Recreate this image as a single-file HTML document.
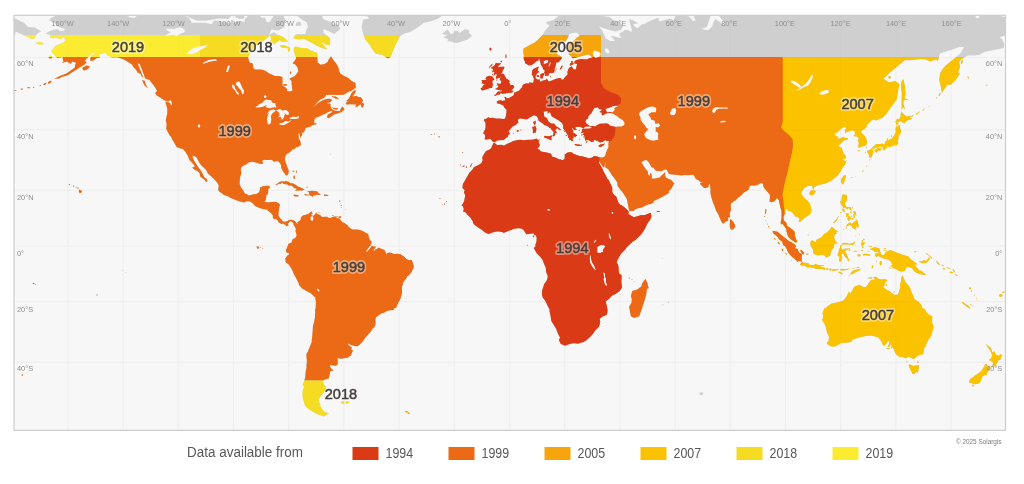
<!DOCTYPE html>
<html><head><meta charset="utf-8"><title>Data availability map</title>
<style>
html,body{margin:0;padding:0;background:#fff}
body{width:1024px;height:484px;overflow:hidden;font-family:"Liberation Sans",sans-serif}
svg{display:block}
text{font-family:"Liberation Sans",sans-serif}
.ax{font-size:7.4px;fill:#8e8e8e}
.lh{font-size:15.2px;fill:#fff;stroke:#fff;stroke-width:3.8px;stroke-linejoin:round;text-anchor:middle;opacity:.42}
.lb{font-size:15.2px;fill:#443f3c;stroke:#443f3c;stroke-width:.5px;text-anchor:middle}
.lg{font-size:13.5px;fill:#585858}
</style></head>
<body>
<svg width="1024" height="484" viewBox="0 0 1024 484">
<defs>
<clipPath id="frame"><rect x="14.0" y="15.3" width="991.5" height="415.1"/></clipPath>
<clipPath id="c_am1999"><path d="M0 57.1H430V380.5H0Z"/></clipPath>
<clipPath id="c_s2018"><path d="M250 380.5H440V440H250Z"/></clipPath>
<clipPath id="c_n2019"><path d="M0 35.0H200.0V57.1H0Z"/></clipPath>
<clipPath id="c_n2018"><path d="M200.0 35.0H430V57.1H200.0Z"/></clipPath>
<clipPath id="c_n2005"><path d="M515 35.0H601V57.1H515Z"/></clipPath>
<clipPath id="c_e2007"><path d="M740 57.1H1010V440H740Z"/></clipPath>
<clipPath id="c_a1999"><path d="M560.0 57.1L782.8 57.1L782.8 122.0L781.2 127.5L784.0 131.0L788.0 134.0L792.6 139.0L793.0 146.0L792.0 152.5L789.8 161.5L787.9 171.0L785.3 180.0L783.6 189.0L782.4 195.0L783.3 200.0L784.0 208.0L785.0 214.0L786.5 218.5L791.0 219.5L796.0 228.0L800.0 240.0L803.0 246.0L805.0 255.0L804.0 262.0L800.0 264.8L780.0 266.0L656.0 276.0L656.0 330.0L560.0 330.0Z"/></clipPath>
<clipPath id="c_e1994"><path d="M400.0 57.1L484.0 57.1L484.0 42.0L512.0 42.0L512.0 57.1L601.0 57.1L601.0 83.0L604.0 88.5L611.8 92.5L617.7 94.5L621.2 98.4L620.6 103.2L616.7 106.2L612.0 108.0L611.0 110.0L612.0 113.0L615.5 124.0L615.3 132.0L614.0 137.5L611.0 141.0L607.0 143.0L604.5 146.0L604.5 154.0L599.5 157.5L599.2 163.0L603.0 170.0L611.0 185.0L620.0 200.0L628.5 211.5L640.0 209.0L655.0 206.0L662.0 213.0L662.0 240.0L626.0 270.0L624.0 300.0L615.0 330.0L615.0 420.0L400.0 420.0Z"/></clipPath>
<path id="land" d="M45.5 33.4L50.2 35.0L50.2 37.7L53.0 38.3L55.8 38.1L59.6 38.5L60.2 39.2L64.6 36.5L64.6 39.0L65.7 41.1L62.4 42.8L58.2 44.7L55.5 45.8L52.4 49.8L51.1 51.3L53.3 53.8L54.9 55.4L56.9 57.7L61.0 57.5L62.4 56.3L62.7 58.5L63.5 61.2L62.0 63.0L66.8 61.4L70.9 64.0L72.0 61.6L76.2 62.8L75.1 64.8L74.8 67.6L71.8 69.7L66.5 73.4L60.4 75.8L54.4 78.8L59.3 78.4L61.6 77.1L66.5 75.8L70.2 73.8L72.3 72.3L77.8 68.8L80.0 67.2L84.7 64.4L86.5 62.2L84.7 60.4L88.3 57.1L90.8 54.4L93.0 52.5L95.5 52.5L94.4 53.4L91.9 55.0L90.4 58.3L90.3 60.8L92.9 60.8L96.9 57.9L99.8 57.7L99.1 54.2L101.8 53.4L105.6 52.9L107.2 55.2L109.3 56.3L112.1 57.5L116.5 57.3L119.0 57.7L121.7 58.7L123.9 59.5L128.8 62.4L132.3 64.8L133.0 66.4L135.8 69.5L137.9 72.8L140.5 73.8L141.6 76.5L145.2 78.4L149.6 80.0L150.1 81.1L152.6 84.1L154.6 86.7L156.8 90.0L156.8 91.6L155.1 92.9L156.8 95.4L159.8 97.2L162.0 98.8L163.9 100.1L166.2 101.0L168.9 101.5L170.0 100.1L171.4 101.1L172.0 104.3L170.8 105.7L170.3 102.9L168.9 102.4L165.3 101.5L166.7 106.4L167.3 108.8L167.3 113.3L165.7 120.5L166.7 124.0L166.2 128.5L167.8 132.1L170.0 135.9L171.4 136.9L171.7 138.8L173.1 140.7L174.7 143.5L176.6 147.1L180.5 148.4L182.4 148.8L185.8 151.9L186.3 153.4L187.7 155.6L189.3 159.8L192.1 162.8L194.3 165.5L194.6 167.0L192.0 167.4L194.9 170.0L196.8 170.8L199.6 172.9L200.1 176.4L203.1 178.8L205.1 180.5L206.0 182.0L207.6 181.1L206.5 178.5L205.1 178.2L204.0 176.4L202.3 172.9L200.4 170.0L198.2 167.0L196.2 164.0L194.3 161.0L192.9 158.0L192.7 155.6L196.2 157.1L198.2 160.4L199.8 163.4L201.8 166.1L203.4 167.3L206.5 170.5L207.8 173.5L211.4 176.4L214.2 179.3L215.8 181.1L217.8 183.4L218.9 186.0L218.3 188.0L218.9 188.6L217.8 189.1L219.7 192.0L221.6 193.1L223.8 195.1L227.4 196.1L230.7 198.0L233.8 199.2L237.6 200.8L241.8 201.9L244.0 202.5L246.7 201.2L250.1 201.6L252.8 203.3L255.0 205.9L258.3 207.5L261.1 208.4L263.9 209.2L267.2 209.5L267.4 210.2L270.8 212.9L273.0 215.4L272.7 217.6L274.6 219.5L275.7 218.7L277.7 220.4L278.8 222.7L280.4 223.1L280.7 224.0L283.2 223.4L284.6 224.8L285.9 225.1L286.2 226.2L287.6 226.0L288.7 225.3L287.6 223.7L289.3 222.3L290.1 221.3L291.5 221.5L293.1 222.9L293.7 225.1L294.5 226.2L296.2 224.2L295.9 222.0L294.2 220.4L291.5 219.7L289.0 220.1L286.5 221.5L284.6 221.7L282.6 221.2L281.5 219.5L280.4 218.4L278.8 216.2L278.5 215.6L278.5 212.9L279.0 210.1L279.3 207.3L280.0 204.5L277.7 202.5L274.9 201.8L272.1 201.9L269.4 202.2L266.6 202.2L264.1 201.9L265.8 200.2L266.1 197.4L266.3 194.9L267.4 195.1L268.3 191.7L268.0 189.7L270.1 187.0L269.1 185.7L266.1 185.7L262.2 186.6L260.0 187.4L259.7 190.7L258.3 193.1L256.1 194.1L253.6 194.3L250.6 194.9L248.7 195.6L246.7 194.0L245.1 193.7L244.3 192.6L243.2 190.3L241.0 187.4L239.6 184.0L239.8 180.2L240.1 177.3L241.4 173.1L240.7 170.0L241.2 167.6L243.2 165.8L246.5 164.3L247.9 163.1L250.3 161.9L252.8 161.8L255.6 162.4L257.5 163.1L259.7 163.7L262.8 164.0L262.8 162.8L262.2 160.7L264.1 159.8L266.6 160.1L268.8 160.0L271.3 159.8L273.0 160.7L274.1 161.9L276.6 161.0L278.5 161.6L280.4 163.7L281.2 165.8L281.0 167.6L281.8 169.1L282.9 171.1L283.7 172.6L285.1 173.8L285.7 175.4L287.3 175.3L288.4 173.5L288.7 170.5L287.6 167.9L287.0 165.8L285.9 163.1L284.8 159.8L285.4 156.5L285.9 155.0L287.3 153.7L289.0 152.7L291.2 151.0L292.6 149.3L294.4 149.3L296.2 147.1L298.2 147.0L299.7 145.6L301.1 144.9L300.6 142.6L299.9 139.8L298.9 139.4L298.6 136.3L298.4 132.4L299.7 134.7L300.0 138.5L300.8 136.6L302.2 135.0L302.2 133.7L301.4 132.1L302.8 133.1L304.2 131.8L305.3 129.2L305.3 127.9L310.8 126.6L312.2 125.3L313.5 124.9L314.6 124.6L316.3 124.4L316.4 123.6L315.7 123.1L314.9 124.0L314.4 122.6L313.5 122.1L314.6 121.1L314.1 120.0L315.7 117.8L319.1 116.6L321.3 115.6L324.6 113.9L327.3 112.6L330.1 111.2L331.5 110.5L332.0 112.2L327.9 114.6L326.8 117.3L328.7 118.3L332.0 116.0L334.0 114.6L338.4 113.3L341.1 112.2L344.5 109.8L342.8 106.4L341.1 108.1L339.8 110.9L337.0 110.9L334.2 110.4L332.9 109.8L331.5 108.8L330.7 106.4L330.4 103.6L328.2 103.6L326.5 102.9L330.1 102.2L332.3 100.1L330.1 98.7L326.0 99.0L321.8 100.8L317.7 103.2L314.9 105.7L313.0 107.1L315.7 104.6L317.1 102.5L320.4 99.4L324.0 97.9L326.2 95.1L332.9 94.7L338.4 95.1L343.9 94.7L347.5 92.2L351.9 90.4L355.8 87.8L355.5 83.0L351.6 81.1L348.0 77.7L343.3 75.6L340.3 73.4L339.2 71.3L338.4 67.6L336.2 63.6L332.9 59.5L331.2 56.1L328.7 59.5L327.6 62.0L324.6 64.0L320.7 64.8L317.7 62.4L317.4 57.9L317.4 52.9L311.1 50.8L306.6 47.9L301.1 47.9L295.6 46.6L293.9 47.9L293.9 51.3L294.8 54.2L296.2 57.5L295.6 59.5L292.6 63.2L295.6 64.8L297.5 67.6L298.4 71.5L294.9 76.1L289.4 78.8L291.5 81.1L291.7 84.8L292.0 87.8L292.6 90.4L290.1 91.5L287.0 91.1L287.3 89.6L285.9 87.8L282.4 85.2L282.6 81.1L282.4 76.9L279.0 76.1L274.9 76.1L269.4 73.4L265.2 70.7L261.1 69.5L254.8 69.5L253.4 68.0L252.8 63.6L249.5 62.4L248.1 57.5L249.8 52.9L252.8 49.6L255.3 45.7L259.2 43.4L264.1 40.5L269.4 36.1L269.7 33.4L271.6 29.3L274.9 30.2L279.0 30.2L284.6 27.0L285.1 20.0L283.2 14.2L274.9 13.7L272.7 17.6L269.4 22.3L266.6 21.9L265.0 17.6L262.5 18.0L258.3 14.7L252.8 7.7L245.9 7.7L248.7 15.1L245.1 19.0L244.5 21.9L239.8 20.9L233.5 22.8L228.0 22.8L219.7 20.9L214.2 20.4L211.4 24.2L205.9 22.8L197.6 22.8L191.8 22.8L189.3 18.5L186.6 16.6L178.3 14.7L170.0 13.2L165.3 11.7L163.1 14.2L156.2 9.7L153.5 12.7L142.4 15.4L136.9 16.1L134.1 18.0L130.0 17.6L125.9 14.7L120.3 14.4L113.2 12.2L106.5 11.7L99.6 10.7L94.1 10.2L90.0 8.2L83.1 7.7L77.3 6.0L73.4 8.7L67.9 9.7L62.7 11.2L59.6 14.2L50.8 18.0L49.1 20.7L54.1 22.3L55.5 23.7L57.7 26.5L60.7 27.5L65.1 28.9L63.8 30.7L59.6 31.1L58.0 29.1L54.1 29.8L51.1 30.5L47.2 32.5ZM294.5 226.2L295.9 228.9L295.5 230.9L296.2 233.6L296.7 235.3L295.3 238.0L292.8 238.9L292.0 241.1L291.5 242.7L289.7 243.3L288.4 244.1L287.3 247.1L286.8 248.6L286.2 248.9L285.9 252.0L287.9 252.9L289.0 252.9L288.7 255.1L287.3 255.6L285.0 258.9L285.7 260.0L285.5 262.0L288.7 264.4L291.2 268.3L292.6 271.1L293.7 273.9L295.3 276.6L296.6 279.3L299.1 283.9L298.6 284.5L302.1 288.5L308.8 292.2L310.8 293.2L312.6 295.0L315.3 297.4L315.9 302.3L315.7 307.7L314.9 310.6L315.2 312.2L314.9 317.3L314.5 320.1L314.0 322.2L312.9 326.3L312.7 330.7L312.2 336.7L311.7 340.3L311.7 342.0L309.5 347.4L307.7 351.9L306.2 354.5L306.6 357.3L306.9 361.7L306.4 365.4L306.6 367.4L306.4 368.2L305.8 370.7L305.5 373.2L305.3 377.1L304.4 380.5L302.8 384.2L303.1 385.4L304.4 386.7L302.8 389.8L302.5 394.4L302.8 398.0L303.9 401.6L304.7 404.6L305.8 406.8L308.6 409.0L312.2 411.3L315.5 413.2L319.1 414.7L323.8 416.6L326.0 415.1L329.0 413.6L326.0 412.4L322.6 410.2L320.2 405.9L318.2 405.7L320.7 404.9L319.1 402.0L318.8 399.4L320.4 396.6L322.6 393.7L325.4 389.8L326.0 388.2L325.7 386.3L323.2 384.1L323.2 381.6L324.6 379.4L328.7 378.4L330.0 373.0L330.1 371.2L334.0 370.4L332.3 369.4L330.1 367.1L330.1 364.8L332.9 365.4L336.2 365.7L337.8 364.1L337.6 358.3L341.1 358.8L347.4 357.7L350.7 355.7L353.0 350.5L351.1 349.4L351.8 347.7L349.7 345.8L348.3 345.0L348.3 343.2L349.8 344.6L354.4 346.0L357.8 346.2L362.1 342.3L365.7 337.2L368.7 334.0L371.2 331.0L372.3 328.9L374.8 326.5L375.6 323.8L375.4 319.7L375.9 317.6L377.3 316.2L381.7 313.2L384.2 312.7L386.1 311.2L390.3 310.2L393.6 310.1L394.1 308.6L396.3 307.4L398.3 302.6L399.7 300.6L401.3 295.3L401.7 291.6L401.9 287.0L403.2 281.9L406.0 278.6L407.2 276.1L409.0 275.0L411.0 272.6L413.3 268.2L413.5 265.5L412.3 262.0L411.5 260.0L408.5 260.0L406.6 259.5L403.2 256.2L400.2 254.2L397.7 253.7L394.1 254.0L390.0 252.6L387.2 252.9L386.4 254.2L384.5 250.1L381.2 248.7L378.8 247.6L375.6 249.8L375.9 246.7L371.5 246.0L370.4 244.4L371.5 243.3L371.6 241.3L370.1 240.2L369.0 237.8L368.2 234.0L365.2 232.4L364.2 231.8L360.7 230.2L357.3 229.6L352.2 229.6L349.0 227.3L347.2 225.1L344.5 222.9L342.2 222.3L341.1 220.4L339.5 218.7L337.0 217.9L335.9 217.3L338.7 216.4L334.9 216.6L332.3 217.1L330.9 218.0L328.7 217.9L327.2 216.8L324.7 216.8L321.8 217.1L321.1 215.8L318.5 214.3L317.0 214.0L316.3 212.3L315.6 213.7L313.8 215.6L312.7 215.8L310.9 215.1L312.6 213.4L311.7 211.6L310.2 212.3L308.3 214.1L304.7 214.9L302.9 215.4L301.0 217.3L300.7 219.8L298.9 221.3L297.3 222.3L297.7 223.7L297.0 224.0L296.2 222.6L295.9 222.0ZM354.9 -2.5L358.0 11.2L363.2 16.1L368.2 16.6L368.7 19.0L363.2 19.5L361.6 27.0L363.2 33.9L365.4 39.6L370.1 45.3L372.3 49.2L375.6 53.4L382.5 55.0L386.4 57.7L388.3 58.3L390.5 57.1L391.9 53.4L393.6 49.2L395.5 44.9L397.7 40.5L399.7 36.1L404.6 33.4L410.1 32.0L417.0 27.9L423.9 22.8L432.2 20.9L438.3 18.5L443.3 15.1L448.2 12.0L448.8 -2.5ZM580.7 7.2L573.0 10.2L567.5 12.7L561.9 14.2L557.8 16.6L553.7 20.0L545.4 22.3L549.5 25.6L545.4 30.2L543.2 33.9L540.7 37.0L537.1 40.5L534.3 42.7L530.8 44.4L526.3 47.0L523.6 48.3L523.3 50.8L523.3 52.9L523.9 55.9L523.6 57.9L524.0 60.0L525.0 61.8L525.0 63.2L526.1 63.8L529.0 65.6L531.6 65.0L533.8 63.8L536.3 61.6L538.5 60.4L539.0 57.9L539.7 60.8L540.4 62.0L540.7 64.4L542.3 66.8L543.2 69.2L545.0 70.9L543.9 72.3L544.6 73.3L545.4 75.0L544.8 75.8L545.8 75.9L547.6 75.7L549.1 75.2L548.7 73.4L550.5 72.9L552.6 72.9L553.7 72.7L554.6 70.9L554.9 68.6L555.5 66.6L555.9 64.4L556.1 63.2L556.4 62.6L558.1 62.4L559.0 62.0L560.0 60.4L561.7 58.5L561.4 57.1L560.4 56.1L557.0 54.6L556.7 52.1L556.8 50.2L557.4 47.4L559.0 46.4L561.1 43.6L565.5 41.4L568.0 37.4L568.8 34.8L570.8 33.4L576.0 32.5L577.3 32.7L579.7 36.1L577.1 37.4L573.3 41.2L569.1 44.4L568.3 47.4L568.8 51.1L568.7 52.9L568.6 54.2L570.8 55.9L572.8 58.2L578.4 56.9L583.9 55.6L588.7 54.6L592.9 57.7L589.8 57.9L586.8 59.5L581.3 59.1L577.8 59.7L575.9 60.2L574.4 61.8L574.4 63.2L577.1 64.0L576.7 66.0L576.0 69.5L573.5 69.5L571.9 66.6L569.0 68.0L567.5 71.5L567.7 74.6L564.7 77.5L564.4 78.6L563.0 79.8L561.0 79.6L561.4 78.8L560.0 78.1L557.9 78.3L556.0 78.8L552.4 80.3L548.8 81.5L546.6 78.5L545.7 80.0L542.9 80.5L541.1 81.5L539.6 81.3L540.4 79.4L537.5 79.6L535.6 78.1L535.7 75.4L537.8 72.9L539.6 71.7L537.9 71.1L537.9 69.5L538.6 67.8L538.8 66.6L537.0 67.2L533.2 69.1L532.1 70.7L531.9 73.4L531.8 75.2L532.8 75.6L533.4 77.7L534.3 79.2L533.2 80.0L533.9 80.7L533.5 81.6L533.1 82.8L531.9 82.8L528.8 82.2L529.4 83.5L528.7 83.5L526.6 83.2L524.4 84.1L522.6 85.0L522.1 86.9L520.8 88.5L519.2 90.4L518.3 90.9L517.5 91.3L516.0 92.0L514.6 92.4L513.9 92.7L513.9 93.3L513.8 95.1L512.5 96.1L509.8 97.6L508.7 98.3L506.5 97.9L506.1 96.9L505.1 97.1L504.1 96.8L505.1 98.7L505.1 99.9L505.4 100.6L504.0 100.6L502.0 101.0L501.2 99.9L498.7 100.4L496.4 101.5L497.6 102.2L496.4 102.8L497.4 103.6L500.3 103.9L500.9 104.6L502.6 105.3L503.4 105.4L504.0 107.1L504.5 108.1L506.3 109.3L506.5 111.2L506.2 114.4L505.2 118.3L504.0 119.0L501.2 118.8L499.0 118.4L496.3 118.5L493.9 118.1L493.4 117.8L490.2 118.1L488.2 117.3L486.7 118.3L486.3 118.7L484.1 119.3L483.9 120.4L485.4 122.6L485.6 126.1L485.4 127.7L485.1 129.4L483.6 131.9L483.3 133.8L484.2 134.0L484.9 134.7L485.0 136.4L484.7 139.4L487.6 139.4L490.3 138.8L492.1 140.9L494.0 142.6L494.7 142.2L497.4 140.4L499.8 140.3L502.7 140.0L503.4 140.3L506.7 137.5L507.6 137.4L508.2 135.1L510.1 133.9L508.7 131.6L509.5 129.9L511.8 127.6L513.0 126.3L515.5 125.3L518.6 122.2L517.9 121.0L518.1 119.5L519.7 118.6L521.9 118.7L524.3 119.0L525.9 119.6L527.9 119.1L529.6 117.6L534.1 115.3L536.6 116.3L537.9 118.1L538.5 120.2L540.1 122.0L542.1 123.0L543.3 124.1L544.3 125.1L547.0 125.9L548.8 127.1L549.1 128.0L550.3 127.7L550.9 129.2L551.7 129.7L553.1 131.5L553.7 131.9L553.2 134.2L552.7 135.9L553.8 136.5L555.2 135.0L555.3 133.6L556.8 132.8L556.1 131.1L555.0 130.6L557.1 128.3L559.2 129.7L560.1 130.5L560.6 129.4L559.0 127.7L556.1 126.2L554.2 123.6L551.7 123.6L550.9 123.3L548.7 121.7L546.8 117.9L544.2 116.4L544.0 113.4L543.6 111.8L547.5 111.0L547.7 113.7L549.4 112.1L550.6 113.4L551.5 116.2L554.9 118.3L559.5 121.1L562.2 123.0L563.2 125.5L563.3 128.4L564.7 130.3L565.4 131.5L566.8 133.2L567.7 135.2L568.6 135.7L567.8 136.5L568.3 137.4L569.3 138.6L569.4 140.0L569.9 140.3L570.5 139.4L571.5 141.4L571.8 140.2L573.5 141.2L573.1 140.4L572.7 139.0L572.4 137.7L573.5 138.3L574.1 137.5L572.8 136.5L574.7 136.5L575.8 137.4L575.7 136.3L577.3 135.8L576.0 134.3L573.8 133.1L573.3 132.7L572.8 131.9L573.5 131.6L572.7 130.0L571.9 129.0L572.8 127.8L573.9 130.1L575.7 130.0L576.8 129.4L575.5 128.5L574.9 127.7L576.8 126.8L580.9 127.1L581.4 127.5L583.5 128.1L581.8 129.7L582.4 129.4L581.5 131.5L583.2 132.1L583.7 133.4L582.1 135.3L583.7 134.8L584.7 136.7L584.7 138.3L585.2 139.3L585.0 140.4L587.5 139.9L589.8 140.6L591.3 142.0L592.7 141.6L593.4 142.0L594.2 139.8L597.8 140.9L600.1 142.5L603.2 141.6L605.1 140.1L607.1 140.9L609.3 140.8L608.7 142.3L608.3 144.1L608.5 146.0L608.4 147.4L607.5 149.1L606.7 151.1L606.1 152.4L605.5 154.7L604.6 156.5L602.8 157.5L598.6 157.2L599.3 161.2L601.1 164.6L602.3 166.3L604.0 167.8L604.8 165.5L606.0 162.4L605.9 163.2L605.0 167.0L608.0 168.9L610.1 172.2L612.4 175.8L614.5 178.5L617.2 182.2L617.6 186.0L620.6 189.9L622.9 192.8L626.9 199.1L628.0 205.0L628.9 209.2L629.4 211.0L633.7 210.7L635.6 209.1L642.5 207.3L645.1 205.8L648.9 204.3L650.9 203.9L653.7 202.6L653.6 201.1L658.8 198.8L662.1 197.1L669.0 193.1L668.8 191.3L671.2 189.1L674.5 183.0L673.8 182.9L671.2 179.9L666.1 177.7L665.0 175.5L665.3 171.9L664.8 172.3L663.9 173.5L662.1 175.0L659.6 177.4L655.0 178.5L651.9 178.8L651.7 175.0L650.9 172.5L649.7 174.7L649.6 176.6L648.1 173.9L647.8 171.6L646.5 170.0L643.4 165.7L641.9 162.9L641.2 163.0L642.5 161.3L643.5 161.2L645.3 159.7L647.9 160.9L649.8 164.1L651.6 167.4L653.2 167.5L655.8 170.7L661.0 171.3L664.8 169.4L666.8 169.8L668.9 173.9L676.8 175.0L681.5 175.5L684.7 175.0L687.9 175.3L693.3 174.7L694.4 176.3L695.8 179.0L698.6 180.2L699.1 181.1L700.9 182.2L703.3 181.8L700.1 183.2L699.9 183.9L701.6 185.6L703.7 187.7L705.4 188.3L708.5 187.1L708.6 185.2L709.6 183.7L710.2 185.6L710.2 187.1L710.5 189.1L710.5 193.3L711.0 196.0L711.8 198.8L713.2 203.2L714.1 205.0L716.0 210.4L717.5 213.2L718.6 214.9L720.0 218.6L721.8 222.6L723.5 223.7L725.2 221.7L728.4 220.4L728.0 217.6L729.9 217.6L729.9 216.3L729.8 213.1L731.1 209.8L730.7 206.0L731.1 203.1L732.8 202.4L733.5 201.2L736.6 200.0L736.5 199.0L739.4 196.8L741.7 195.1L743.8 192.4L746.4 190.9L748.7 189.5L749.6 186.1L751.1 185.6L752.7 185.6L755.1 185.4L757.9 184.8L760.7 183.1L762.9 183.6L763.3 186.2L764.2 187.9L765.9 189.9L767.7 191.9L769.9 194.7L770.0 198.0L769.5 201.6L771.7 202.2L773.9 201.6L775.3 200.2L776.9 198.0L778.9 200.2L779.6 203.8L780.3 207.1L781.6 211.6L781.6 215.6L781.5 218.4L780.8 221.5L780.8 224.5L782.5 223.8L784.1 225.9L785.6 227.8L786.5 229.2L786.3 231.1L787.2 233.1L787.2 234.4L788.3 236.4L789.2 237.8L790.5 239.1L791.7 240.0L793.5 240.9L795.2 242.5L796.5 242.3L797.3 241.7L796.1 239.3L794.7 235.5L795.0 232.9L794.2 231.3L791.7 229.1L790.6 228.3L789.0 227.1L787.2 226.2L786.2 222.6L783.8 220.6L783.4 217.0L784.9 213.4L785.4 211.3L785.6 209.6L787.2 208.7L787.9 210.3L788.0 211.0L789.1 211.0L791.3 211.5L792.5 212.7L793.6 214.0L795.2 216.7L797.1 216.8L797.9 217.4L799.5 218.4L798.5 222.3L800.4 221.7L801.4 220.5L803.7 219.0L804.1 217.9L805.0 217.4L807.9 215.8L810.3 214.1L810.9 213.1L810.9 212.2L811.6 210.3L811.0 207.9L810.1 204.0L808.2 201.4L806.8 200.1L803.8 197.5L801.4 194.1L801.8 191.0L803.7 189.4L804.0 187.9L805.1 187.6L807.6 186.0L810.6 186.0L812.4 186.1L812.8 189.4L813.7 189.6L814.3 186.9L815.9 186.1L818.5 185.3L822.9 184.0L824.7 183.7L827.9 182.4L831.6 180.6L835.5 177.4L837.1 176.1L839.6 172.9L841.3 170.0L843.0 167.1L845.1 164.9L845.9 161.6L843.5 160.1L841.5 160.1L845.9 158.3L845.9 155.9L843.5 153.4L843.2 151.9L841.5 147.9L838.8 146.5L839.5 144.5L841.7 142.4L844.8 140.1L847.3 139.8L848.2 138.2L846.5 137.9L844.6 137.7L842.8 136.8L840.4 138.5L837.9 138.8L838.5 136.9L835.2 135.6L834.5 133.1L837.7 132.6L839.6 130.1L843.0 127.6L844.0 126.9L846.5 127.6L844.8 130.5L845.1 133.4L847.0 132.1L852.3 130.3L854.5 131.1L855.1 133.9L853.5 135.9L856.4 136.4L858.9 138.0L857.7 140.2L858.9 142.7L858.2 146.3L858.6 147.9L862.1 146.6L865.8 145.4L866.6 144.2L867.1 142.4L866.6 139.4L865.4 137.1L864.4 135.6L861.3 132.6L861.8 130.3L863.9 129.2L866.1 127.7L867.7 124.0L869.4 122.5L870.2 122.3L870.5 121.1L873.5 119.6L876.3 120.6L879.3 119.0L882.9 117.5L886.2 113.9L890.4 108.1L896.7 99.4L898.1 90.5L899.5 84.3L896.7 82.2L895.3 81.1L889.0 82.6L883.5 78.8L890.8 71.7L904.7 60.2L911.9 60.0L920.5 59.1L925.7 59.3L930.4 61.6L935.4 59.5L937.9 60.8L940.1 53.4L952.2 49.4L959.4 47.0L964.1 47.0L960.2 53.4L951.0 61.3L945.6 65.6L942.3 69.5L940.1 73.4L939.2 80.0L940.6 85.6L941.9 92.7L947.4 84.8L951.2 84.5L956.9 78.3L960.2 72.7L958.0 72.7L960.2 66.4L959.1 62.0L959.7 60.6L964.9 56.9L967.9 55.4L974.6 55.6L979.5 54.8L984.2 52.1L1003.8 48.1L1004.4 44.9L1002.2 39.2L999.4 37.2L1009.1 34.3L1009.1 31.6L1025.1 38.8L1027.6 38.8L1031.1 33.4L1034.9 31.3L1028.4 27.5L1021.5 27.0L1017.9 23.0L1008.0 18.0L1000.8 16.1L994.7 13.2L987.0 13.2L979.5 14.2L978.7 18.5L975.9 17.6L975.1 14.7L970.4 15.1L964.9 14.9L955.0 15.1L951.1 14.2L948.3 7.7L923.5 -2.5L757.9 -13.3L741.3 -2.5L731.7 2.7L726.2 1.6L723.4 7.7L719.3 16.6L726.2 24.2L723.4 24.7L715.7 19.0L713.2 22.3L712.4 26.1L708.2 30.2L701.3 28.9L706.8 27.0L708.8 21.4L711.0 15.1L709.6 7.7L699.9 0.1L694.4 7.7L693.9 16.6L695.8 20.4L693.0 20.9L688.9 16.4L679.7 13.9L676.5 14.2L673.7 20.0L669.6 18.5L666.8 19.5L662.7 20.4L659.4 21.4L658.5 17.8L655.8 18.5L647.5 21.9L644.2 24.0L642.0 24.2L637.8 27.9L635.1 27.0L633.1 24.2L638.4 23.3L632.3 20.0L629.0 19.2L630.4 24.7L631.8 29.3L631.5 32.0L628.2 30.2L625.4 29.8L622.1 32.0L619.3 33.9L621.3 38.1L619.3 37.9L614.4 36.5L610.5 36.1L613.8 39.2L614.7 41.0L610.2 41.0L605.5 38.3L605.0 36.3L603.3 33.4L602.0 30.2L598.9 26.3L604.3 28.5L610.2 30.2L615.8 31.4L621.3 29.5L623.1 26.5L619.2 21.6L614.4 20.4L608.9 17.1L606.4 16.6L602.0 16.1L597.8 12.9L595.6 14.7L592.3 14.2L591.6 12.3L595.3 10.9L588.2 7.7ZM-412.9 7.2L-420.6 10.2L-426.1 12.7L-431.7 14.2L-435.8 16.6L-439.9 20.0L-448.2 22.3L-444.1 25.6L-448.2 30.2L-450.4 33.9L-452.9 37.0L-456.5 40.5L-459.3 42.7L-462.8 44.4L-467.3 47.0L-470.0 48.3L-470.3 50.8L-470.3 52.9L-469.7 55.9L-470.0 57.9L-469.6 60.0L-468.6 61.8L-468.6 63.2L-467.5 63.8L-464.6 65.6L-462.0 65.0L-459.8 63.8L-457.3 61.6L-455.1 60.4L-454.6 57.9L-453.9 60.8L-453.2 62.0L-452.9 64.4L-451.3 66.8L-450.4 69.2L-448.6 70.9L-449.7 72.3L-449.0 73.3L-448.2 75.0L-448.8 75.8L-447.8 75.9L-446.0 75.7L-444.5 75.2L-444.9 73.4L-443.1 72.9L-441.0 72.9L-439.9 72.7L-439.0 70.9L-438.7 68.6L-438.1 66.6L-437.7 64.4L-437.5 63.2L-437.2 62.6L-435.5 62.4L-434.6 62.0L-433.6 60.4L-431.9 58.5L-432.2 57.1L-433.2 56.1L-436.6 54.6L-436.9 52.1L-436.8 50.2L-436.2 47.4L-434.6 46.4L-432.5 43.6L-428.1 41.4L-425.6 37.4L-424.8 34.8L-422.8 33.4L-417.6 32.5L-416.3 32.7L-413.9 36.1L-416.5 37.4L-420.3 41.2L-424.5 44.4L-425.3 47.4L-424.8 51.1L-424.9 52.9L-425.0 54.2L-422.8 55.9L-420.8 58.2L-415.2 56.9L-409.7 55.6L-404.9 54.6L-400.7 57.7L-403.8 57.9L-406.8 59.5L-412.3 59.1L-415.8 59.7L-417.7 60.2L-419.2 61.8L-419.2 63.2L-416.5 64.0L-416.9 66.0L-417.6 69.5L-420.1 69.5L-421.7 66.6L-424.6 68.0L-426.1 71.5L-425.9 74.6L-428.9 77.5L-429.2 78.6L-430.6 79.8L-432.6 79.6L-432.2 78.8L-433.6 78.1L-435.7 78.3L-437.6 78.8L-441.2 80.3L-444.8 81.5L-447.0 78.5L-447.9 80.0L-450.7 80.5L-452.5 81.5L-454.0 81.3L-453.2 79.4L-456.1 79.6L-458.0 78.1L-457.9 75.4L-455.8 72.9L-454.0 71.7L-455.7 71.1L-455.7 69.5L-455.0 67.8L-454.8 66.6L-456.6 67.2L-460.4 69.1L-461.5 70.7L-461.7 73.4L-461.8 75.2L-460.8 75.6L-460.2 77.7L-459.3 79.2L-460.4 80.0L-459.7 80.7L-460.1 81.6L-460.5 82.8L-461.7 82.8L-464.8 82.2L-464.2 83.5L-464.9 83.5L-467.0 83.2L-469.2 84.1L-471.0 85.0L-471.5 86.9L-472.8 88.5L-474.4 90.4L-475.3 90.9L-476.1 91.3L-477.6 92.0L-479.0 92.4L-479.7 92.7L-479.7 93.3L-479.8 95.1L-481.1 96.1L-483.8 97.6L-484.9 98.3L-487.1 97.9L-487.5 96.9L-488.5 97.1L-489.5 96.8L-488.5 98.7L-488.5 99.9L-488.2 100.6L-489.6 100.6L-491.6 101.0L-492.4 99.9L-494.9 100.4L-497.2 101.5L-496.0 102.2L-497.2 102.8L-496.2 103.6L-493.3 103.9L-492.7 104.6L-491.0 105.3L-490.2 105.4L-489.6 107.1L-489.1 108.1L-487.3 109.3L-487.1 111.2L-487.4 114.4L-488.4 118.3L-489.6 119.0L-492.4 118.8L-494.6 118.4L-497.3 118.5L-499.7 118.1L-500.2 117.8L-503.4 118.1L-505.4 117.3L-506.9 118.3L-507.3 118.7L-509.5 119.3L-509.7 120.4L-508.2 122.6L-508.0 126.1L-508.2 127.7L-508.5 129.4L-510.0 131.9L-510.3 133.8L-509.4 134.0L-508.7 134.7L-508.6 136.4L-508.9 139.4L-506.0 139.4L-503.3 138.8L-501.5 140.9L-499.6 142.6L-498.9 142.2L-496.2 140.4L-493.8 140.3L-490.9 140.0L-490.2 140.3L-486.9 137.5L-486.0 137.4L-485.4 135.1L-483.5 133.9L-484.9 131.6L-484.1 129.9L-481.8 127.6L-480.6 126.3L-478.1 125.3L-475.0 122.2L-475.7 121.0L-475.5 119.5L-473.9 118.6L-471.7 118.7L-469.3 119.0L-467.7 119.6L-465.7 119.1L-464.0 117.6L-459.5 115.3L-457.0 116.3L-455.7 118.1L-455.1 120.2L-453.5 122.0L-451.5 123.0L-450.3 124.1L-449.3 125.1L-446.6 125.9L-444.8 127.1L-444.5 128.0L-443.3 127.7L-442.7 129.2L-441.9 129.7L-440.5 131.5L-439.9 131.9L-440.4 134.2L-440.9 135.9L-439.8 136.5L-438.4 135.0L-438.3 133.6L-436.8 132.8L-437.5 131.1L-438.6 130.6L-436.5 128.3L-434.4 129.7L-433.5 130.5L-433.0 129.4L-434.6 127.7L-437.5 126.2L-439.4 123.6L-441.9 123.6L-442.7 123.3L-444.9 121.7L-446.8 117.9L-449.4 116.4L-449.6 113.4L-450.0 111.8L-446.1 111.0L-445.9 113.7L-444.2 112.1L-443.0 113.4L-442.1 116.2L-438.7 118.3L-434.1 121.1L-431.4 123.0L-430.4 125.5L-430.3 128.4L-428.9 130.3L-428.2 131.5L-426.8 133.2L-425.9 135.2L-425.0 135.7L-425.8 136.5L-425.3 137.4L-424.3 138.6L-424.2 140.0L-423.7 140.3L-423.1 139.4L-422.1 141.4L-421.8 140.2L-420.1 141.2L-420.5 140.4L-420.9 139.0L-421.2 137.7L-420.1 138.3L-419.5 137.5L-420.8 136.5L-418.9 136.5L-417.8 137.4L-417.9 136.3L-416.3 135.8L-417.6 134.3L-419.8 133.1L-420.3 132.7L-420.8 131.9L-420.1 131.6L-420.9 130.0L-421.7 129.0L-420.8 127.8L-419.7 130.1L-417.9 130.0L-416.8 129.4L-418.1 128.5L-418.7 127.7L-416.8 126.8L-412.7 127.1L-412.2 127.5L-410.1 128.1L-411.8 129.7L-411.2 129.4L-412.1 131.5L-410.4 132.1L-409.9 133.4L-411.5 135.3L-409.9 134.8L-408.9 136.7L-408.9 138.3L-408.4 139.3L-408.6 140.4L-406.1 139.9L-403.8 140.6L-402.3 142.0L-400.9 141.6L-400.2 142.0L-399.4 139.8L-395.8 140.9L-393.5 142.5L-390.4 141.6L-388.5 140.1L-386.5 140.9L-384.3 140.8L-384.9 142.3L-385.3 144.1L-385.1 146.0L-385.2 147.4L-386.1 149.1L-386.9 151.1L-387.5 152.4L-388.1 154.7L-389.0 156.5L-390.8 157.5L-395.0 157.2L-394.3 161.2L-392.5 164.6L-391.3 166.3L-389.6 167.8L-388.8 165.5L-387.6 162.4L-387.7 163.2L-388.6 167.0L-385.6 168.9L-383.5 172.2L-381.2 175.8L-379.1 178.5L-376.4 182.2L-376.0 186.0L-373.0 189.9L-370.7 192.8L-366.7 199.1L-365.6 205.0L-364.7 209.2L-364.2 211.0L-359.9 210.7L-358.0 209.1L-351.1 207.3L-348.5 205.8L-344.7 204.3L-342.7 203.9L-339.9 202.6L-340.0 201.1L-334.8 198.8L-331.5 197.1L-324.6 193.1L-324.8 191.3L-322.4 189.1L-319.1 183.0L-319.8 182.9L-322.4 179.9L-327.5 177.7L-328.6 175.5L-328.3 171.9L-328.8 172.3L-329.7 173.5L-331.5 175.0L-334.0 177.4L-338.6 178.5L-341.7 178.8L-341.9 175.0L-342.7 172.5L-343.9 174.7L-344.0 176.6L-345.5 173.9L-345.8 171.6L-347.1 170.0L-350.2 165.7L-351.7 162.9L-352.4 163.0L-351.1 161.3L-350.1 161.2L-348.3 159.7L-345.7 160.9L-343.8 164.1L-342.0 167.4L-340.4 167.5L-337.8 170.7L-332.6 171.3L-328.8 169.4L-326.8 169.8L-324.7 173.9L-316.8 175.0L-312.1 175.5L-308.9 175.0L-305.7 175.3L-300.3 174.7L-299.2 176.3L-297.8 179.0L-295.0 180.2L-294.5 181.1L-292.7 182.2L-290.3 181.8L-293.5 183.2L-293.7 183.9L-292.0 185.6L-289.9 187.7L-288.2 188.3L-285.1 187.1L-285.0 185.2L-284.0 183.7L-283.4 185.6L-283.4 187.1L-283.1 189.1L-283.1 193.3L-282.6 196.0L-281.8 198.8L-280.4 203.2L-279.5 205.0L-277.6 210.4L-276.1 213.2L-275.0 214.9L-273.6 218.6L-271.8 222.6L-270.1 223.7L-268.4 221.7L-265.2 220.4L-265.6 217.6L-263.7 217.6L-263.7 216.3L-263.8 213.1L-262.5 209.8L-262.9 206.0L-262.5 203.1L-260.8 202.4L-260.1 201.2L-257.0 200.0L-257.1 199.0L-254.2 196.8L-251.9 195.1L-249.8 192.4L-247.2 190.9L-244.9 189.5L-244.0 186.1L-242.5 185.6L-240.9 185.6L-238.5 185.4L-235.7 184.8L-232.9 183.1L-230.7 183.6L-230.3 186.2L-229.4 187.9L-227.7 189.9L-225.9 191.9L-223.7 194.7L-223.6 198.0L-224.1 201.6L-221.9 202.2L-219.7 201.6L-218.3 200.2L-216.7 198.0L-214.7 200.2L-214.0 203.8L-213.3 207.1L-212.0 211.6L-212.0 215.6L-212.1 218.4L-212.8 221.5L-212.8 224.5L-211.1 223.8L-209.5 225.9L-208.0 227.8L-207.1 229.2L-207.3 231.1L-206.4 233.1L-206.4 234.4L-205.3 236.4L-204.4 237.8L-203.1 239.1L-201.9 240.0L-200.1 240.9L-198.4 242.5L-197.1 242.3L-196.3 241.7L-197.5 239.3L-198.9 235.5L-198.6 232.9L-199.4 231.3L-201.9 229.1L-203.0 228.3L-204.6 227.1L-206.4 226.2L-207.4 222.6L-209.8 220.6L-210.2 217.0L-208.7 213.4L-208.2 211.3L-208.0 209.6L-206.4 208.7L-205.7 210.3L-205.6 211.0L-204.5 211.0L-202.3 211.5L-201.1 212.7L-200.0 214.0L-198.4 216.7L-196.5 216.8L-195.7 217.4L-194.1 218.4L-195.1 222.3L-193.2 221.7L-192.2 220.5L-189.9 219.0L-189.5 217.9L-188.6 217.4L-185.7 215.8L-183.3 214.1L-182.7 213.1L-182.7 212.2L-182.0 210.3L-182.6 207.9L-183.5 204.0L-185.4 201.4L-186.8 200.1L-189.8 197.5L-192.2 194.1L-191.8 191.0L-189.9 189.4L-189.6 187.9L-188.5 187.6L-186.0 186.0L-183.0 186.0L-181.2 186.1L-180.8 189.4L-179.9 189.6L-179.3 186.9L-177.7 186.1L-175.1 185.3L-170.7 184.0L-168.9 183.7L-165.7 182.4L-162.0 180.6L-158.1 177.4L-156.5 176.1L-154.0 172.9L-152.3 170.0L-150.6 167.1L-148.5 164.9L-147.7 161.6L-150.1 160.1L-152.1 160.1L-147.7 158.3L-147.7 155.9L-150.1 153.4L-150.4 151.9L-152.1 147.9L-154.8 146.5L-154.1 144.5L-151.9 142.4L-148.8 140.1L-146.3 139.8L-145.4 138.2L-147.1 137.9L-149.0 137.7L-150.8 136.8L-153.2 138.5L-155.7 138.8L-155.1 136.9L-158.4 135.6L-159.1 133.1L-155.9 132.6L-154.0 130.1L-150.6 127.6L-149.6 126.9L-147.1 127.6L-148.8 130.5L-148.5 133.4L-146.6 132.1L-141.3 130.3L-139.1 131.1L-138.5 133.9L-140.1 135.9L-137.2 136.4L-134.7 138.0L-135.9 140.2L-134.7 142.7L-135.4 146.3L-135.0 147.9L-131.5 146.6L-127.8 145.4L-127.0 144.2L-126.5 142.4L-127.0 139.4L-128.2 137.1L-129.2 135.6L-132.3 132.6L-131.8 130.3L-129.7 129.2L-127.5 127.7L-125.9 124.0L-124.2 122.5L-123.4 122.3L-123.1 121.1L-120.1 119.6L-117.3 120.6L-114.3 119.0L-110.7 117.5L-107.4 113.9L-103.2 108.1L-96.9 99.4L-95.5 90.5L-94.1 84.3L-96.9 82.2L-98.3 81.1L-104.6 82.6L-110.1 78.8L-102.8 71.7L-88.9 60.2L-81.7 60.0L-73.1 59.1L-67.9 59.3L-63.2 61.6L-58.2 59.5L-55.7 60.8L-53.5 53.4L-41.4 49.4L-34.2 47.0L-29.5 47.0L-33.4 53.4L-42.6 61.3L-48.0 65.6L-51.3 69.5L-53.5 73.4L-54.4 80.0L-53.0 85.6L-51.7 92.7L-46.2 84.8L-42.4 84.5L-36.7 78.3L-33.4 72.7L-35.6 72.7L-33.4 66.4L-34.5 62.0L-33.9 60.6L-28.7 56.9L-25.7 55.4L-19.0 55.6L-14.1 54.8L-9.4 52.1L10.2 48.1L10.8 44.9L8.6 39.2L5.8 37.2L15.5 34.3L15.5 31.6L31.5 38.8L34.0 38.8L37.5 33.4L41.3 31.3L34.8 27.5L27.9 27.0L24.3 23.0L14.4 18.0L7.2 16.1L1.1 13.2L-6.6 13.2L-14.1 14.2L-14.9 18.5L-17.7 17.6L-18.5 14.7L-23.2 15.1L-28.7 14.9L-38.6 15.1L-42.5 14.2L-45.3 7.7L-70.1 -2.5L-235.7 -13.3L-252.3 -2.5L-261.9 2.7L-267.4 1.6L-270.2 7.7L-274.3 16.6L-267.4 24.2L-270.2 24.7L-277.9 19.0L-280.4 22.3L-281.2 26.1L-285.4 30.2L-292.3 28.9L-286.8 27.0L-284.8 21.4L-282.6 15.1L-284.0 7.7L-293.7 0.1L-299.2 7.7L-299.7 16.6L-297.8 20.4L-300.6 20.9L-304.7 16.4L-313.9 13.9L-317.1 14.2L-319.9 20.0L-324.0 18.5L-326.8 19.5L-330.9 20.4L-334.2 21.4L-335.1 17.8L-337.8 18.5L-346.1 21.9L-349.4 24.0L-351.6 24.2L-355.8 27.9L-358.5 27.0L-360.5 24.2L-355.2 23.3L-361.3 20.0L-364.6 19.2L-363.2 24.7L-361.8 29.3L-362.1 32.0L-365.4 30.2L-368.2 29.8L-371.5 32.0L-374.3 33.9L-372.3 38.1L-374.3 37.9L-379.2 36.5L-383.1 36.1L-379.8 39.2L-378.9 41.0L-383.4 41.0L-388.1 38.3L-388.6 36.3L-390.3 33.4L-391.6 30.2L-394.7 26.3L-389.3 28.5L-383.4 30.2L-377.8 31.4L-372.3 29.5L-370.5 26.5L-374.4 21.6L-379.2 20.4L-384.7 17.1L-387.2 16.6L-391.6 16.1L-395.8 12.9L-398.0 14.7L-401.3 14.2L-402.0 12.3L-398.3 10.9L-405.4 7.7ZM493.2 143.2L494.9 142.9L497.1 145.1L498.7 144.9L501.4 144.8L504.0 145.4L507.7 143.5L509.8 142.7L513.1 141.0L517.9 140.1L520.3 139.8L523.6 140.2L525.4 140.1L528.5 139.8L530.9 139.8L533.2 139.6L536.7 138.4L537.9 139.9L540.0 139.3L538.8 141.3L538.9 143.2L540.0 144.2L539.2 146.5L537.4 149.1L539.6 149.4L540.1 150.4L541.2 151.4L545.9 152.2L548.8 153.0L551.2 153.7L552.0 156.5L555.3 157.4L559.2 159.2L560.6 159.5L562.5 160.3L563.6 159.8L564.8 158.6L564.8 154.6L567.3 152.8L569.5 152.2L570.6 152.2L572.0 152.6L573.3 153.7L575.7 154.7L578.8 155.7L578.9 156.3L581.0 156.2L584.7 156.9L589.4 158.4L592.0 157.4L593.4 156.5L595.1 156.2L597.3 156.4L598.6 157.2L599.3 161.2L598.8 162.2L599.6 163.7L600.9 166.0L602.9 169.2L603.2 170.7L604.1 172.6L605.8 175.6L607.4 179.0L608.3 179.0L610.7 183.9L612.2 187.4L612.2 191.4L612.6 192.9L614.4 195.4L616.0 196.0L618.4 202.8L619.9 204.5L622.7 205.9L627.5 210.1L628.5 210.9L629.0 213.0L627.1 214.1L628.6 214.0L629.5 214.7L633.7 217.2L637.8 216.2L640.6 215.2L642.5 215.2L645.2 214.9L648.9 213.6L649.6 212.9L651.0 213.3L651.4 217.2L650.0 219.8L647.1 224.0L645.3 228.1L643.4 231.3L640.6 235.0L634.7 240.4L633.1 241.3L626.9 247.0L624.3 250.5L622.4 252.2L620.2 254.8L619.0 257.1L617.4 259.9L616.6 262.5L618.0 264.7L618.5 267.8L618.5 270.5L619.1 273.6L620.5 274.4L621.6 275.5L621.3 281.8L621.6 284.7L621.8 286.1L622.0 287.6L619.6 291.1L615.8 293.7L611.6 295.7L609.7 298.3L605.7 301.2L606.1 303.4L607.1 307.4L607.5 310.3L607.2 312.8L606.7 314.7L602.4 316.5L599.5 318.9L600.3 321.6L599.1 326.2L598.1 327.4L595.1 330.6L593.5 333.3L591.1 335.9L586.5 340.2L583.7 342.0L580.2 343.1L578.1 343.8L574.1 343.3L570.6 343.7L564.7 345.8L562.5 344.5L561.5 344.4L560.6 343.5L560.5 344.3L560.3 342.9L558.9 340.1L560.0 337.4L558.1 334.0L556.1 328.7L554.9 326.8L551.3 321.0L550.6 316.2L549.5 311.5L549.5 310.2L549.6 309.4L548.0 306.8L546.1 302.6L544.6 299.9L542.6 297.3L541.9 293.9L542.2 289.8L543.0 288.1L544.0 284.3L546.5 280.8L546.9 280.1L547.7 276.9L547.5 275.6L545.9 271.6L546.0 270.3L545.7 267.6L545.0 265.9L543.6 262.9L543.2 261.3L542.2 259.2L540.1 256.7L538.9 255.4L536.5 252.9L533.6 247.8L535.2 247.1L535.6 244.9L535.2 244.4L536.0 243.3L536.5 240.9L536.5 239.5L536.8 237.9L535.7 235.3L534.9 235.0L534.1 234.7L533.5 233.3L532.7 233.5L530.2 233.8L529.2 233.9L526.8 234.2L526.3 234.3L524.3 231.3L523.3 229.8L521.9 228.7L518.9 228.3L516.2 228.5L512.9 229.1L512.3 229.8L511.4 230.1L508.9 230.7L506.1 232.0L504.7 232.5L503.7 233.0L503.3 232.6L501.5 232.1L498.5 231.6L495.7 231.8L492.7 232.4L491.2 233.0L489.2 233.8L488.2 234.0L484.5 232.2L481.8 229.8L479.7 228.6L478.1 227.4L475.0 225.2L473.8 224.2L472.9 222.6L472.8 221.2L471.7 219.8L470.7 217.9L469.2 216.6L468.1 215.6L466.7 214.3L466.4 213.3L464.8 212.1L463.4 211.9L463.3 211.3L463.7 208.8L463.3 207.5L463.0 206.8L462.7 206.1L461.1 205.2L462.2 204.7L464.0 201.6L464.5 198.8L465.3 195.7L463.8 192.1L464.8 190.3L462.4 188.1L462.6 186.3L462.9 184.0L465.5 179.6L469.5 172.5L472.5 169.5L473.8 167.2L478.9 164.8L481.4 162.9L482.9 159.7L482.2 159.1L482.5 156.5L484.0 154.0L486.0 151.1L488.5 150.0L490.6 148.7L491.1 147.9L492.5 145.1L492.9 144.2L493.2 143.2ZM902.8 275.5L903.6 277.7L905.1 281.4L908.3 285.3L910.4 288.8L911.9 292.9L912.7 294.6L914.7 299.6L918.7 301.7L921.3 305.0L922.4 308.3L924.9 308.9L926.0 311.8L927.1 312.8L930.1 315.6L932.6 316.2L932.3 318.5L932.1 320.3L932.3 323.2L933.2 325.3L933.5 326.9L932.2 331.9L931.5 335.4L928.5 339.8L927.1 342.7L926.0 344.6L925.7 346.6L924.1 348.5L923.4 352.9L923.4 354.1L918.0 355.4L913.6 359.3L910.3 357.2L908.7 356.7L905.6 358.5L902.8 357.0L900.3 356.9L897.6 355.9L895.2 353.0L894.0 349.4L892.9 348.0L890.7 348.2L891.8 346.0L890.7 343.8L890.1 346.6L887.6 347.1L888.7 344.7L889.8 338.6L889.3 340.3L887.3 342.6L884.6 345.5L884.9 346.3L882.7 344.9L881.8 342.1L879.9 339.5L878.5 337.5L871.6 335.5L865.3 336.1L857.3 338.0L851.7 340.1L851.5 342.0L845.9 342.8L841.0 343.0L839.0 344.4L834.9 346.4L831.3 346.4L827.3 344.3L826.9 341.7L827.9 342.1L828.6 341.1L828.8 338.6L829.0 336.9L827.7 334.0L826.9 331.9L825.8 327.3L824.6 324.1L821.8 319.5L822.8 318.8L823.2 315.9L822.5 313.2L823.5 310.8L824.6 306.9L824.7 308.9L827.2 306.4L831.6 303.6L836.8 302.6L840.7 301.6L843.5 300.6L845.7 297.4L846.9 295.9L848.8 291.5L850.6 294.0L851.7 291.2L853.1 288.9L854.5 286.4L859.9 284.7L862.8 286.8L865.5 287.3L867.1 285.6L868.9 282.8L870.6 280.4L871.9 279.7L875.2 279.7L873.3 277.2L875.5 276.6L878.0 278.6L879.9 279.3L882.1 279.4L883.8 279.1L887.1 279.7L887.5 280.1L884.6 283.6L884.6 285.6L883.2 286.8L883.8 287.5L886.8 289.9L889.8 291.2L890.4 291.9L894.8 294.9L898.1 294.6L899.8 288.9L900.3 287.3L900.0 284.5L900.6 282.9L901.0 281.0L900.9 279.1L901.7 276.4ZM871.8 248.3L874.6 247.0L879.5 248.4L880.2 251.2L881.5 255.1L883.5 255.2L886.0 252.0L889.8 250.1L892.5 251.1L897.8 253.0L899.5 253.4L902.4 254.7L906.0 255.8L908.3 256.6L911.9 260.3L913.8 261.4L917.6 264.2L915.2 264.6L915.8 266.7L916.9 267.3L918.8 269.7L919.4 270.5L921.6 270.8L923.2 272.7L926.0 274.3L925.3 275.2L922.1 274.4L919.4 274.1L915.6 272.2L913.8 270.5L911.8 268.0L909.4 267.2L907.6 266.7L905.8 268.3L905.3 269.7L904.7 271.0L902.0 271.4L898.7 271.1L896.9 269.4L893.7 268.3L889.6 269.1L890.4 266.1L892.3 265.3L890.7 261.3L887.6 259.5L886.5 259.2L882.7 258.2L879.9 256.7L878.6 256.0L876.0 257.0L874.6 254.1L878.0 252.9L879.1 252.3L874.6 252.0L873.5 250.5L870.9 249.8ZM812.1 240.3L814.1 241.3L815.9 242.2L816.4 239.7L821.5 237.2L824.1 233.9L826.8 232.4L829.8 229.5L831.7 226.7L833.0 227.6L835.5 229.9L838.7 231.7L836.0 232.2L836.8 233.8L834.9 234.3L834.1 236.9L834.9 240.5L837.8 243.4L835.2 243.5L833.8 245.7L833.9 247.6L832.0 249.5L831.0 252.0L830.5 254.2L829.7 255.9L825.9 257.5L824.4 255.2L821.4 254.8L818.1 255.6L813.7 254.0L813.0 251.1L813.0 249.4L810.6 246.0L810.2 243.5L810.3 241.9ZM772.5 230.7L777.6 231.7L780.0 233.9L781.9 235.6L785.1 237.9L787.7 240.1L789.5 241.4L791.6 242.2L793.2 243.5L794.9 244.5L796.0 246.0L795.0 248.2L797.5 248.9L799.0 252.5L802.1 254.2L801.6 257.0L801.6 261.1L801.4 262.2L800.1 261.1L798.2 261.1L797.9 262.2L796.3 260.3L791.7 256.5L788.5 253.0L787.0 249.7L786.5 248.6L784.9 246.0L783.7 245.5L783.0 244.5L782.0 241.2L779.4 239.8L777.8 237.1L774.7 234.6L773.2 233.3ZM799.9 264.7L801.8 262.7L802.1 262.2L804.4 262.8L807.0 263.1L808.5 263.3L809.2 264.4L810.8 264.9L814.2 265.1L814.9 263.8L816.8 264.4L818.8 265.0L820.6 265.3L823.9 265.0L824.4 265.3L822.8 266.0L821.0 266.1L821.4 267.2L824.1 267.2L825.2 268.6L825.2 270.1L822.8 269.1L820.6 269.1L816.1 268.7L813.9 268.1L810.3 267.3L809.4 267.2L806.8 267.2L803.6 265.3L803.2 266.3ZM854.1 241.9L855.1 241.5L855.1 242.2L853.1 244.9L849.1 244.6L844.8 244.6L841.5 244.6L841.3 248.2L842.8 249.8L845.1 248.4L846.9 248.7L848.0 248.2L850.2 248.3L849.8 248.7L848.4 248.7L847.6 249.6L844.4 251.5L846.1 253.0L847.9 256.9L848.4 259.3L847.3 259.1L845.1 257.1L843.5 254.2L843.7 253.3L841.3 254.2L841.8 257.0L841.8 258.5L841.5 260.2L841.3 261.3L839.5 261.5L839.0 260.2L839.6 257.0L837.8 255.8L837.7 253.4L838.8 251.2L838.9 249.6L840.0 247.8L840.1 246.0L842.9 243.1L844.6 242.8L847.6 243.3L848.7 243.7L851.5 243.4L853.3 242.7ZM842.2 195.4L843.0 194.1L845.3 195.0L846.6 194.4L847.0 198.0L846.8 200.8L845.0 202.4L845.3 205.2L846.8 207.0L849.0 207.0L851.6 207.8L851.0 209.6L852.0 211.2L851.3 211.0L849.0 208.7L848.3 207.8L847.9 209.5L845.1 207.5L843.6 208.0L842.4 207.1L843.3 205.7L841.9 206.0L841.4 205.0L840.4 203.1L840.0 200.7L841.4 201.5L841.5 200.0L841.8 197.3ZM855.9 219.0L857.8 221.2L858.2 223.4L858.9 225.9L857.8 228.7L857.5 226.9L856.3 226.6L855.6 228.7L856.4 230.6L854.9 229.2L851.7 227.8L852.3 226.2L850.2 225.6L850.2 224.5L848.4 225.6L846.4 227.0L846.5 225.1L847.9 223.7L849.9 222.3L851.2 223.7L852.4 223.3L853.5 222.6L854.5 221.2L855.9 221.3L855.6 219.3ZM870.8 149.0L872.2 147.6L874.1 146.0L875.8 144.3L877.3 144.0L879.9 144.0L882.7 143.4L883.1 144.2L885.0 143.7L884.9 142.0L886.5 140.7L887.3 138.2L888.6 137.9L887.6 139.3L888.2 140.2L890.4 139.3L891.1 138.9L893.3 136.4L894.5 134.7L895.4 133.3L896.0 130.8L895.1 130.0L895.9 129.2L895.6 127.9L896.9 125.8L898.0 127.1L898.2 126.1L898.4 124.8L899.9 125.3L899.8 126.9L900.0 128.2L901.3 131.0L901.1 132.3L900.3 133.4L899.5 135.0L898.7 135.5L898.5 136.9L898.4 139.6L897.7 140.7L898.3 143.5L896.7 145.2L895.6 146.0L895.5 145.7L895.3 143.8L894.9 144.5L894.9 145.2L893.6 144.9L893.4 145.9L892.7 147.0L892.7 145.4L891.5 145.9L891.0 147.0L889.7 146.8L887.6 147.0L887.2 145.6L886.4 146.6L887.2 147.3L887.1 148.0L885.4 148.7L884.9 149.7L884.2 150.6L883.1 149.7L882.5 148.2L883.2 146.8L882.7 146.7L881.1 146.4L879.2 147.1L877.7 147.4L875.1 147.7L874.4 148.4L874.1 149.0L872.6 148.7L871.8 149.0ZM896.2 125.2L896.2 123.6L895.5 121.8L896.5 120.6L896.9 118.8L898.7 119.3L899.6 119.1L900.0 117.1L900.5 116.8L900.6 115.5L900.7 113.6L901.3 111.5L903.1 113.4L905.1 115.5L907.8 116.6L910.7 115.5L910.3 116.6L910.1 117.8L911.9 118.7L909.3 120.0L908.0 120.1L905.0 122.3L904.9 123.6L903.5 122.8L900.3 121.2L898.6 122.2L897.0 121.6L897.6 123.0L899.2 124.0L898.0 124.1L896.5 125.3ZM870.8 149.1L873.0 149.9L872.9 151.1L873.7 152.0L873.0 153.3L872.3 155.3L872.0 156.9L870.1 158.0L868.9 157.2L868.9 154.6L868.3 154.0L867.7 152.8L866.9 150.8L868.2 150.4L869.4 149.9ZM874.0 150.8L875.8 149.3L876.6 148.5L879.5 147.7L881.0 148.2L881.0 148.7L881.4 149.4L879.8 151.1L878.1 150.4L876.6 152.8L875.8 152.2L875.2 151.3ZM901.6 110.2L901.6 106.2L901.7 102.9L901.6 99.2L901.8 95.8L901.8 92.6L901.0 87.8L901.1 83.7L902.2 80.0L903.4 79.6L904.2 82.6L905.0 86.7L905.0 89.3L905.6 94.0L904.5 98.5L906.9 99.0L908.9 100.6L905.8 99.4L903.6 100.8L903.1 104.6L904.0 105.3L904.3 107.1L905.3 109.7L903.6 107.8L902.8 107.6ZM845.0 175.0L846.1 175.8L845.8 177.0L845.3 178.8L844.0 182.4L843.0 184.8L841.4 182.8L841.0 181.5L841.1 179.3L842.1 177.9L843.2 176.3L844.0 175.5ZM813.9 190.2L815.9 191.3L814.5 193.7L811.7 195.4L809.5 194.6L809.2 192.9L810.9 190.6L812.3 190.3ZM730.9 218.9L733.8 222.4L735.0 224.8L735.4 226.7L733.3 229.2L732.0 229.7L730.9 229.4L729.9 226.9L729.7 224.0L730.0 221.2L730.3 219.4ZM645.4 279.0L647.5 282.9L647.9 285.4L648.8 288.2L646.8 288.8L646.8 290.8L645.8 296.4L644.2 301.4L642.9 305.3L641.6 309.8L639.2 316.3L634.1 317.9L630.9 316.2L630.0 311.4L629.1 306.7L631.6 302.6L631.8 298.9L630.9 296.2L632.2 290.9L637.3 289.5L639.8 287.5L641.3 286.6L642.0 283.6L644.2 280.5ZM986.2 344.4L987.0 344.4L988.4 346.3L990.3 346.9L991.1 348.8L991.9 350.4L992.1 352.1L993.3 352.6L993.5 350.9L994.7 351.9L995.8 354.6L998.0 355.6L998.8 355.7L1000.6 354.3L1002.3 354.8L1000.8 358.0L1000.5 359.7L997.7 360.5L998.3 361.0L996.9 363.5L995.8 365.1L993.3 367.4L991.9 366.4L992.5 365.1L993.1 363.1L992.5 362.0L990.6 360.9L989.0 359.9L990.0 359.1L991.4 358.0L991.9 356.1L992.1 355.1L991.1 352.7L990.3 350.7L988.1 347.8L987.3 346.8ZM986.2 363.8L987.0 364.9L987.8 366.2L990.6 365.4L989.9 367.1L988.9 370.0L987.3 372.4L986.3 373.7L987.3 374.7L984.8 375.0L982.1 376.7L981.5 379.1L980.6 381.6L978.1 383.7L974.1 384.2L971.8 382.9L969.3 382.7L969.0 381.5L970.4 378.7L972.6 377.4L974.8 375.4L975.9 374.9L978.7 373.0L981.3 371.0L982.0 370.2L983.1 367.9L984.5 366.2L984.8 364.6ZM908.9 364.4L910.5 364.6L913.4 365.9L915.2 365.4L916.3 365.4L918.8 364.9L918.8 366.4L918.8 369.4L918.0 371.0L918.0 372.7L916.3 372.0L914.7 374.0L912.5 373.9L912.2 373.0L910.3 369.4L909.4 367.4L908.7 365.6ZM493.8 95.6L495.6 94.4L497.1 92.2L498.2 91.5L501.2 91.5L502.0 90.2L500.7 90.6L498.5 90.0L497.6 89.8L494.9 88.9L496.5 88.2L498.2 87.1L498.2 85.2L496.4 85.6L497.6 84.3L496.7 83.7L497.6 83.3L499.0 83.7L500.9 83.5L501.1 83.2L501.1 81.8L501.6 80.7L500.5 80.7L499.6 79.2L500.9 77.5L499.6 77.7L497.4 78.4L496.1 78.7L495.7 77.3L496.7 75.6L496.3 73.6L493.6 76.1L494.0 73.4L494.3 71.9L492.4 70.7L493.4 69.5L491.0 68.0L492.1 66.8L493.5 66.2L494.6 65.2L495.7 63.1L499.8 63.2L501.1 63.0L500.9 63.8L499.4 65.2L498.5 66.2L497.9 67.6L500.4 66.7L504.0 66.8L504.6 67.6L503.8 69.0L502.7 70.7L502.3 72.4L500.7 73.5L502.6 73.4L504.0 74.3L505.6 77.3L506.2 78.4L507.8 79.2L509.3 80.6L509.8 82.6L508.7 82.2L510.5 84.3L510.1 85.4L510.9 85.0L513.1 85.1L514.3 86.8L513.2 88.7L512.0 89.5L511.4 90.4L513.4 90.7L513.2 91.8L512.2 92.5L510.2 93.1L509.1 92.8L507.3 93.2L506.5 92.9L505.9 93.7L504.1 93.6L502.7 93.9L501.4 93.2L500.1 93.6L499.4 95.0L498.0 94.5L495.1 95.9ZM489.2 75.8L492.5 76.5L493.8 78.6L494.5 79.6L492.4 81.1L492.7 83.5L492.9 85.0L492.0 87.9L490.2 88.0L486.9 89.3L482.5 90.6L481.3 90.0L480.8 88.9L480.7 88.2L482.2 87.4L482.7 86.3L482.1 86.5L484.7 84.3L481.3 83.3L482.5 81.8L481.5 81.1L481.9 80.0L485.8 80.0L486.6 79.2L485.2 78.6L486.6 76.7ZM446.8 41.4L448.8 39.9L443.3 37.0L447.4 35.2L441.9 33.9L445.7 30.7L447.7 29.5L450.7 33.9L453.5 33.4L454.0 31.1L457.3 30.7L459.5 33.0L461.8 31.4L464.8 29.3L469.3 29.9L468.7 32.7L472.2 35.8L470.0 37.7L467.5 39.4L457.1 43.1L453.7 42.5L450.4 41.2ZM543.9 136.9L544.7 135.8L546.3 135.9L548.1 136.2L551.6 135.6L552.7 135.4L551.2 137.9L551.7 139.3L551.3 140.5L548.8 139.2L547.0 138.6L545.6 137.9L544.2 137.4ZM532.1 126.7L533.5 126.8L534.9 125.8L535.9 126.8L536.4 128.2L536.3 130.1L535.8 132.7L534.6 132.4L533.4 133.5L532.7 132.6L533.0 130.2L532.4 128.1ZM535.4 120.0L535.6 121.0L535.9 123.0L535.2 124.6L534.8 125.3L533.5 123.6L533.2 122.3L533.6 121.4L535.2 121.0ZM574.4 144.8L575.7 144.1L577.1 144.6L578.9 144.6L580.6 145.1L582.1 144.8L582.1 145.2L580.6 145.7L577.8 145.9L574.9 145.0ZM598.6 145.6L600.4 144.5L601.4 144.6L604.9 143.5L603.2 145.4L603.6 145.8L602.4 146.0L600.6 147.0L598.9 146.5ZM355.2 90.0L356.0 90.9L354.9 93.3L352.7 96.5L356.3 95.8L358.4 96.9L360.5 96.9L362.0 98.5L362.9 100.4L361.6 103.6L363.2 102.4L364.0 104.4L363.0 107.6L361.6 107.6L360.5 104.3L357.1 106.7L355.4 106.8L355.4 106.0L356.3 104.6L350.5 104.3L346.2 104.4L345.6 103.2L348.0 101.1L346.0 101.2L348.3 99.0L349.4 97.4L351.4 93.5L352.7 91.5ZM275.0 184.9L276.8 184.0L279.9 181.7L282.2 181.2L284.4 181.5L285.5 181.1L288.7 181.8L290.2 183.0L293.4 183.5L296.7 185.6L298.1 186.7L299.5 187.1L300.7 187.4L302.6 188.4L303.9 189.3L304.9 189.6L302.1 190.6L300.2 190.4L295.0 190.8L296.7 189.3L296.4 188.4L294.2 188.3L291.9 185.7L288.7 185.4L287.5 184.4L285.4 184.3L283.7 184.0L282.4 182.5L280.4 184.0L278.9 183.8L277.8 184.4L276.3 185.1ZM306.9 190.9L310.2 191.0L311.7 190.7L314.4 190.9L316.6 191.3L318.6 192.3L317.4 192.9L318.0 193.0L320.9 194.3L319.2 194.9L316.6 194.7L315.2 195.4L313.3 195.4L312.4 197.1L311.5 195.9L309.3 195.3L306.0 195.5L304.0 195.0L305.0 194.1L307.7 194.7L309.8 194.4L308.8 192.9L308.8 191.9ZM293.3 195.3L294.5 194.6L297.3 194.9L299.2 196.0L297.3 196.4L295.0 196.4ZM324.0 194.6L328.3 194.9L328.2 196.0L324.0 196.1ZM338.7 216.5L341.3 216.2L341.1 218.1L338.7 218.3ZM82.8 67.6L86.7 65.6L89.2 66.0L89.4 67.6L86.4 69.9L83.6 70.5L82.3 68.4ZM142.1 80.3L146.0 80.7L145.5 84.1L147.9 88.5L144.4 85.2ZM51.4 81.1L50.9 80.7L49.9 80.9L48.8 81.6L48.1 82.5L47.9 83.3L48.5 83.7L49.5 83.5L50.6 82.8L51.3 81.9ZM46.5 83.0L46.1 82.7L45.2 82.9L44.3 83.5L43.6 84.2L43.5 84.9L43.9 85.1L44.8 84.9L45.7 84.3L46.4 83.6ZM30.4 87.8L30.0 87.5L29.2 87.3L28.2 87.3L27.4 87.5L27.1 87.8L27.4 88.1L28.2 88.3L29.2 88.3L30.0 88.1ZM22.9 89.1L22.7 88.7L22.1 88.4L21.5 88.4L20.9 88.7L20.7 89.1L20.9 89.5L21.5 89.8L22.1 89.8L22.7 89.5ZM1016.5 89.1L1016.3 88.7L1015.7 88.4L1015.1 88.4L1014.5 88.7L1014.3 89.1L1014.5 89.5L1015.1 89.8L1015.7 89.8L1016.3 89.5ZM16.6 90.4L16.4 90.1L15.8 90.0L15.1 90.0L14.6 90.1L14.4 90.4L14.6 90.6L15.1 90.8L15.8 90.8L16.4 90.6ZM1010.2 90.4L1010.0 90.1L1009.4 90.0L1008.7 90.0L1008.2 90.1L1008.0 90.4L1008.2 90.6L1008.7 90.8L1009.4 90.8L1010.0 90.6ZM34.4 87.4L34.2 87.2L33.9 87.0L33.5 87.0L33.1 87.2L33.0 87.4L33.1 87.7L33.5 87.9L33.9 87.9L34.2 87.7ZM41.1 85.6L41.0 85.3L40.6 85.2L40.0 85.2L39.6 85.3L39.5 85.6L39.6 85.8L40.0 86.0L40.6 86.0L41.0 85.8ZM35.3 43.1L39.5 41.8L43.9 43.6L41.4 44.9L37.8 44.0ZM52.4 57.1L52.1 56.2L51.1 55.7L49.9 55.7L48.9 56.2L48.6 57.1L48.9 57.9L49.9 58.5L51.1 58.5L52.1 57.9ZM269.4 34.8L273.5 32.0L277.7 34.8L283.2 37.0L288.1 41.4L281.8 41.8L279.9 40.1L273.5 44.4L270.8 41.8L269.4 42.3L271.6 37.9ZM280.1 45.3L283.7 45.1L288.7 47.0L287.0 48.3L281.2 47.4ZM290.2 49.2L290.0 47.8L289.4 46.9L288.6 46.9L288.0 47.8L287.7 49.2L288.0 50.5L288.6 51.4L289.4 51.4L290.0 50.5ZM287.0 84.8L286.7 84.3L285.7 84.0L284.5 84.0L283.5 84.3L283.2 84.8L283.5 85.4L284.5 85.7L285.7 85.7L286.7 85.4ZM291.3 72.7L291.2 72.0L290.8 71.6L290.4 71.6L290.1 72.0L289.9 72.7L290.1 73.4L290.4 73.8L290.8 73.8L291.2 73.4ZM293.4 37.9L295.6 34.3L305.3 33.9L306.1 30.7L308.0 27.0L306.6 22.3L302.5 20.0L297.5 16.1L292.8 11.7L294.2 2.7L324.6 2.7L320.2 10.2L323.2 19.0L331.5 22.3L332.9 24.4L338.4 24.7L340.3 28.9L334.2 33.9L328.2 30.9L323.2 28.9L323.8 33.0L330.1 38.3L330.1 45.3L326.0 44.4L320.4 41.6L324.6 46.2L327.3 49.6L321.8 47.9L316.6 45.5L310.8 42.3L303.9 38.8L298.4 39.6ZM295.6 26.1L301.7 25.6L300.3 21.4L296.4 22.3ZM182.4 5.2L183.8 14.2L189.3 17.6L196.2 20.4L205.9 20.7L210.0 20.0L219.7 18.5L228.0 19.0L231.3 16.1L233.5 5.2ZM234.9 17.1L239.0 18.8L243.7 18.8L244.5 16.1L242.3 13.2L237.6 14.7ZM163.1 3.2L170.0 6.7L176.9 5.2L175.5 -2.5ZM331.5 96.2L335.6 96.5L339.2 99.0L335.9 98.8L332.3 96.9ZM331.8 107.6L335.1 107.9L338.4 108.3L337.0 109.8L333.4 109.1ZM295.0 177.3L294.9 176.3L294.5 175.6L294.0 175.6L293.6 176.3L293.4 177.3L293.6 178.3L294.0 179.0L294.5 179.0L294.9 178.3ZM295.0 171.1L294.7 170.9L293.9 170.8L292.9 170.8L292.1 170.9L291.7 171.1L292.1 171.3L292.9 171.5L293.9 171.5L294.7 171.3ZM296.8 171.7L296.8 170.9L296.6 170.5L296.3 170.5L296.1 170.9L296.0 171.7L296.1 172.5L296.3 173.0L296.6 173.0L296.8 172.5ZM308.0 187.1L307.9 186.9L307.4 186.7L306.9 186.7L306.5 186.9L306.4 187.1L306.5 187.4L306.9 187.6L307.4 187.6L307.9 187.4ZM331.1 154.0L331.1 153.9L330.9 153.7L330.7 153.7L330.5 153.9L330.5 154.0L330.5 154.2L330.7 154.3L330.9 154.3L331.1 154.2ZM340.5 201.1L340.3 200.8L340.0 200.5L339.5 200.5L339.2 200.8L339.1 201.1L339.2 201.4L339.5 201.6L340.0 201.6L340.3 201.4ZM341.6 205.4L341.5 205.1L341.3 204.9L341.0 204.9L340.8 205.1L340.7 205.4L340.8 205.8L341.0 206.0L341.3 206.0L341.5 205.8ZM340.5 203.3L340.4 203.0L340.3 202.9L340.1 202.9L340.0 203.0L339.9 203.3L340.0 203.6L340.1 203.8L340.3 203.8L340.4 203.6ZM341.4 207.5L341.4 207.3L341.2 207.1L341.1 207.1L340.9 207.3L340.9 207.5L340.9 207.8L341.1 207.9L341.2 207.9L341.4 207.8ZM345.4 209.6L345.4 209.4L345.2 209.3L345.1 209.3L344.9 209.4L344.9 209.6L344.9 209.8L345.1 210.0L345.2 210.0L345.4 209.8ZM333.7 215.6L333.5 215.4L333.1 215.3L332.6 215.3L332.2 215.4L332.0 215.6L332.2 215.8L332.6 216.0L333.1 216.0L333.5 215.8ZM319.8 212.7L319.7 212.5L319.4 212.2L318.9 212.0L318.5 211.8L318.3 211.9L318.4 212.1L318.7 212.4L319.2 212.6L319.6 212.8ZM79.2 189.6L81.1 190.4L81.6 191.1L82.2 191.7L79.8 193.4L78.8 191.2ZM78.9 188.0L78.8 187.7L78.3 187.5L77.7 187.5L77.2 187.7L77.0 188.0L77.2 188.3L77.7 188.5L78.3 188.5L78.8 188.3ZM77.0 187.1L76.8 186.9L76.4 186.8L75.9 186.8L75.5 186.9L75.4 187.1L75.5 187.2L75.9 187.3L76.4 187.3L76.8 187.2ZM74.2 186.1L74.1 185.8L73.8 185.6L73.3 185.6L73.0 185.8L72.9 186.1L73.0 186.4L73.3 186.6L73.8 186.6L74.1 186.4ZM69.9 184.4L69.8 184.1L69.5 183.9L69.1 183.9L68.8 184.1L68.7 184.4L68.8 184.7L69.1 185.0L69.5 185.0L69.8 184.7ZM258.8 247.6L258.6 246.8L258.2 246.2L257.7 246.2L257.3 246.8L257.1 247.6L257.3 248.5L257.7 249.1L258.2 249.1L258.6 248.5ZM260.7 247.7L260.6 247.5L260.3 247.3L260.0 247.3L259.7 247.5L259.6 247.7L259.7 247.9L260.0 248.1L260.3 248.1L260.6 247.9ZM257.2 247.0L257.2 246.8L256.9 246.6L256.7 246.6L256.5 246.8L256.4 247.0L256.5 247.3L256.7 247.4L256.9 247.4L257.2 247.3ZM263.3 248.3L263.2 248.2L262.9 248.1L262.6 248.1L262.3 248.2L262.2 248.3L262.3 248.5L262.6 248.6L262.9 248.6L263.2 248.5ZM341.1 401.6L343.9 401.4L344.5 403.3L342.5 404.0L341.4 403.1ZM345.6 401.4L348.3 401.4L349.7 402.4L347.8 403.3L346.1 404.0L345.8 402.7ZM404.6 411.1L407.9 411.7L410.1 413.7L409.0 413.9L406.0 412.2ZM464.7 165.6L464.4 165.4L463.8 165.5L463.2 165.8L462.8 166.2L462.7 166.6L463.0 166.8L463.6 166.7L464.2 166.4L464.6 166.0ZM467.1 167.1L467.0 166.8L466.7 166.5L466.2 166.5L465.9 166.8L465.8 167.1L465.9 167.5L466.2 167.8L466.7 167.8L467.0 167.5ZM471.3 166.0L471.6 165.2L471.6 164.6L471.3 164.4L470.8 164.8L470.4 165.6L470.2 166.4L470.2 167.0L470.4 167.2L470.9 166.8ZM472.4 163.4L472.1 163.3L471.7 163.4L471.4 163.7L471.2 164.0L471.3 164.3L471.6 164.5L471.9 164.3L472.2 164.0L472.4 163.7ZM460.6 164.9L460.5 164.5L460.3 164.3L460.1 164.3L460.0 164.5L459.9 164.9L460.0 165.3L460.1 165.5L460.3 165.5L460.5 165.3ZM462.2 166.7L462.2 166.5L462.0 166.4L461.9 166.4L461.7 166.5L461.7 166.7L461.7 166.9L461.9 167.0L462.0 167.0L462.2 166.9ZM463.4 152.7L463.2 152.5L462.8 152.4L462.3 152.4L461.9 152.5L461.8 152.7L461.9 152.8L462.3 153.0L462.8 153.0L463.2 152.8ZM444.8 204.2L444.7 203.8L444.5 203.5L444.2 203.5L444.0 203.8L443.9 204.2L444.0 204.6L444.2 204.8L444.5 204.8L444.7 204.6ZM440.6 198.7L440.4 198.5L440.1 198.4L439.8 198.4L439.5 198.5L439.3 198.7L439.5 198.9L439.8 199.0L440.1 199.0L440.4 198.9ZM447.0 201.4L446.9 201.1L446.7 201.0L446.4 201.0L446.2 201.1L446.2 201.4L446.2 201.6L446.4 201.8L446.7 201.8L446.9 201.6ZM442.5 204.6L442.4 204.4L442.3 204.3L442.1 204.3L441.9 204.4L441.8 204.6L441.9 204.8L442.1 204.9L442.3 204.9L442.4 204.8ZM440.2 136.9L440.0 136.7L439.5 136.6L438.8 136.6L438.2 136.7L438.0 136.9L438.2 137.1L438.8 137.2L439.5 137.2L440.0 137.1ZM432.2 134.8L432.1 134.6L431.6 134.5L431.1 134.5L430.7 134.6L430.6 134.8L430.7 134.9L431.1 135.0L431.6 135.0L432.1 134.9ZM434.9 134.0L434.8 133.8L434.6 133.7L434.3 133.7L434.0 133.8L433.9 134.0L434.0 134.2L434.3 134.3L434.6 134.3L434.8 134.2ZM491.6 49.2L491.3 48.3L490.8 47.7L490.1 47.7L489.6 48.3L489.4 49.2L489.6 50.0L490.1 50.6L490.8 50.6L491.3 50.0ZM506.5 56.3L506.4 55.0L506.1 54.3L505.7 54.3L505.5 55.0L505.4 56.3L505.5 57.5L505.7 58.2L506.1 58.2L506.4 57.5ZM502.0 61.6L501.9 61.1L501.5 60.8L501.0 60.8L500.6 61.1L500.4 61.6L500.6 62.1L501.0 62.3L501.5 62.3L501.9 62.1ZM489.9 66.0L492.4 63.6L492.4 64.8L491.8 65.8L490.2 66.8L489.2 68.8L489.6 69.2L489.1 67.2ZM493.9 71.7L493.7 71.4L493.2 71.1L492.6 71.1L492.2 71.4L492.0 71.7L492.2 72.0L492.6 72.3L493.2 72.3L493.7 72.0ZM492.9 74.4L492.8 74.0L492.5 73.8L492.2 73.8L492.0 74.0L491.9 74.4L492.0 74.8L492.2 75.1L492.5 75.1L492.8 74.8ZM497.3 80.2L497.2 79.7L497.0 79.3L496.8 79.3L496.7 79.7L496.6 80.2L496.7 80.8L496.8 81.1L497.0 81.1L497.2 80.8ZM534.1 236.4L534.0 235.8L533.7 235.5L533.3 235.5L533.1 235.8L533.0 236.4L533.1 236.9L533.3 237.3L533.7 237.3L534.0 236.9ZM528.0 245.3L528.0 245.0L527.8 244.8L527.6 244.8L527.4 245.0L527.4 245.3L527.4 245.6L527.6 245.8L527.8 245.8L528.0 245.6ZM516.0 131.1L518.1 130.0L519.0 130.6L518.1 132.1L517.0 131.5ZM521.4 130.0L521.2 129.8L520.9 129.8L520.5 129.8L520.1 129.8L520.0 130.0L520.1 130.2L520.5 130.2L520.9 130.2L521.2 130.2ZM513.9 133.1L513.8 132.9L513.5 132.8L513.2 132.8L512.9 132.9L512.8 133.1L512.9 133.4L513.2 133.5L513.5 133.5L513.8 133.4ZM540.1 74.6L541.8 73.6L543.4 73.0L544.3 73.3L544.3 75.0L543.2 76.1L543.0 77.9L542.3 78.8L539.9 78.1L540.4 76.5ZM536.5 75.4L538.5 75.0L539.3 76.1L539.0 77.1L537.4 77.1L536.5 76.3ZM559.6 69.5L561.7 65.8L562.8 65.8L561.4 68.4L560.0 69.7ZM554.8 72.7L555.2 72.5L556.8 68.2L556.4 68.2ZM569.8 64.4L570.2 63.2L573.8 63.2L573.5 64.0L570.5 65.6L570.2 65.8ZM573.1 62.0L572.9 61.5L572.4 61.2L571.7 61.2L571.1 61.5L570.9 62.0L571.1 62.5L571.7 62.7L572.4 62.7L572.9 62.5ZM551.2 76.7L551.1 76.5L550.8 76.3L550.5 76.3L550.2 76.5L550.1 76.7L550.2 77.0L550.5 77.2L550.8 77.2L551.1 77.0ZM587.1 142.2L587.3 141.7L587.3 141.3L587.1 141.1L586.8 141.3L586.4 141.7L586.2 142.2L586.2 142.6L586.4 142.8L586.8 142.6ZM582.9 132.4L582.7 132.1L582.2 132.0L581.7 132.0L581.2 132.1L581.0 132.4L581.2 132.7L581.7 132.9L582.2 132.9L582.7 132.7ZM581.5 135.0L581.5 134.5L581.3 134.2L581.2 134.2L581.0 134.5L581.0 135.0L581.0 135.5L581.2 135.7L581.3 135.7L581.5 135.5ZM584.2 137.1L584.1 136.9L583.8 136.8L583.4 136.8L583.2 136.9L583.1 137.1L583.2 137.2L583.4 137.3L583.8 137.3L584.1 137.2ZM580.2 139.3L580.1 139.0L580.0 138.8L579.8 138.8L579.7 139.0L579.6 139.3L579.7 139.6L579.8 139.7L580.0 139.7L580.1 139.6ZM564.3 131.0L564.1 130.5L563.9 130.3L563.8 130.3L563.8 130.7L563.9 131.2L564.2 131.7L564.4 132.0L564.5 131.9L564.5 131.6ZM566.6 135.5L566.6 135.1L566.3 134.9L566.1 134.9L565.9 135.1L565.8 135.5L565.9 135.8L566.1 136.1L566.3 136.1L566.6 135.8ZM579.7 130.2L579.6 130.0L579.4 129.9L579.0 129.9L578.7 130.0L578.6 130.2L578.7 130.4L579.0 130.5L579.4 130.5L579.6 130.4ZM549.6 142.9L549.5 142.8L549.3 142.7L549.1 142.7L549.0 142.8L548.9 142.9L549.0 143.0L549.1 143.1L549.3 143.1L549.5 143.0ZM538.3 120.7L538.3 120.6L538.1 120.6L537.8 120.6L537.6 120.6L537.5 120.7L537.6 120.8L537.8 120.9L538.1 120.9L538.3 120.8ZM660.1 211.5L659.7 211.2L658.8 211.1L657.7 211.1L656.8 211.2L656.5 211.5L656.8 211.7L657.7 211.9L658.8 211.9L659.7 211.7ZM629.5 278.0L629.4 277.5L629.2 277.2L629.0 277.2L628.9 277.5L628.8 278.0L628.9 278.5L629.0 278.8L629.2 278.8L629.4 278.5ZM632.5 279.7L632.4 279.5L632.2 279.4L631.9 279.4L631.7 279.5L631.6 279.7L631.7 279.9L631.9 280.0L632.2 280.0L632.4 279.9ZM634.4 281.4L634.3 281.1L634.2 281.0L634.0 281.0L633.9 281.1L633.8 281.4L633.9 281.6L634.0 281.8L634.2 281.8L634.3 281.6ZM663.6 304.9L663.5 304.4L663.1 304.2L662.6 304.2L662.1 304.4L662.0 304.9L662.1 305.3L662.6 305.5L663.1 305.5L663.5 305.3ZM669.0 302.4L668.9 301.9L668.6 301.6L668.1 301.6L667.8 301.9L667.6 302.4L667.8 302.9L668.1 303.2L668.6 303.2L668.9 302.9ZM662.8 258.8L662.7 258.6L662.6 258.5L662.5 258.5L662.4 258.6L662.3 258.8L662.4 259.0L662.5 259.1L662.6 259.1L662.7 259.0ZM703.5 393.7L703.1 392.9L702.0 392.3L700.6 392.3L699.5 392.9L699.1 393.7L699.5 394.5L700.6 395.1L702.0 395.1L703.1 394.5ZM765.6 208.7L766.3 209.5L766.2 212.0L765.5 214.0L764.9 213.7L765.4 210.6ZM765.1 216.5L765.1 216.1L764.9 215.9L764.7 215.9L764.5 216.1L764.5 216.5L764.5 216.8L764.7 217.0L764.9 217.0L765.1 216.8ZM768.8 226.7L768.7 226.3L768.5 226.1L768.3 226.1L768.1 226.3L768.0 226.7L768.1 227.1L768.3 227.4L768.5 227.4L768.7 227.1ZM767.8 224.0L767.8 223.7L767.6 223.6L767.5 223.6L767.3 223.7L767.3 224.0L767.3 224.2L767.5 224.4L767.6 224.4L767.8 224.2ZM765.8 220.8L765.8 220.6L765.7 220.6L765.6 220.6L765.4 220.6L765.4 220.8L765.4 220.9L765.6 221.0L765.7 221.0L765.8 220.9ZM712.5 234.4L712.5 234.4L712.4 234.3L712.3 234.3L712.2 234.4L712.2 234.4L712.2 234.5L712.3 234.6L712.4 234.6L712.5 234.5ZM779.2 242.7L778.6 242.0L778.0 241.7L777.8 241.9L777.9 242.5L778.3 243.3L778.9 244.0L779.4 244.3L779.7 244.1L779.6 243.4ZM775.0 238.6L774.5 238.2L774.1 238.0L773.9 238.2L774.0 238.6L774.4 239.1L775.0 239.5L775.4 239.7L775.6 239.5L775.4 239.1ZM783.0 249.7L782.6 248.9L782.2 248.6L781.9 248.7L781.8 249.2L781.9 250.0L782.3 250.8L782.8 251.1L783.1 251.0L783.2 250.5ZM786.3 253.6L785.9 253.0L785.6 252.8L785.5 252.8L785.5 253.3L785.8 253.8L786.2 254.4L786.5 254.6L786.7 254.6L786.6 254.1ZM792.1 260.9L792.0 260.7L791.8 260.6L791.6 260.6L791.4 260.7L791.3 260.9L791.4 261.0L791.6 261.1L791.8 261.1L792.0 261.0ZM799.9 250.4L801.8 250.3L804.3 253.1L803.7 254.5L802.1 254.0L801.0 251.8ZM808.5 254.0L808.3 253.5L807.8 253.2L807.1 253.2L806.5 253.5L806.3 254.0L806.5 254.5L807.1 254.8L807.8 254.8L808.3 254.5ZM808.5 235.1L808.5 234.7L808.3 234.5L808.0 234.5L807.8 234.7L807.7 235.1L807.8 235.5L808.0 235.8L808.3 235.8L808.5 235.5ZM825.4 268.5L827.5 268.2L828.8 269.1L827.5 270.3L825.8 269.1ZM829.2 269.1L830.8 268.6L831.7 269.1L831.0 270.5L829.4 270.3ZM831.7 269.7L833.8 269.0L835.7 268.9L835.5 269.8L837.9 268.9L838.5 269.7L837.7 270.3L835.2 270.4L832.4 270.9ZM840.1 269.3L842.4 268.7L846.2 269.3L848.7 268.5L849.0 269.1L847.0 270.1L843.5 270.5L840.3 270.3ZM837.9 272.1L840.1 271.8L842.9 273.6L841.8 274.4L839.3 273.0ZM850.2 274.6L851.7 271.8L854.5 270.0L858.6 269.1L860.8 269.1L859.5 270.5L855.9 271.9L853.1 274.0ZM854.5 268.7L854.3 268.5L853.7 268.4L853.1 268.4L852.5 268.5L852.3 268.7L852.5 268.9L853.1 269.0L853.7 269.0L854.3 268.9ZM859.6 267.5L859.3 267.2L858.6 267.0L857.6 267.0L856.9 267.2L856.6 267.5L856.9 267.8L857.6 268.0L858.6 268.0L859.3 267.8ZM850.0 275.2L849.7 275.2L849.3 275.3L848.9 275.5L848.6 275.8L848.5 276.1L848.8 276.2L849.2 276.1L849.6 275.8L849.9 275.5ZM873.1 267.2L873.3 266.2L873.2 265.5L872.8 265.4L872.2 265.8L871.8 266.7L871.6 267.7L871.7 268.3L872.1 268.5L872.6 268.0ZM881.8 263.1L881.6 261.8L881.1 261.0L880.4 261.0L879.8 261.8L879.6 263.1L879.8 264.4L880.4 265.2L881.1 265.2L881.6 264.4ZM876.6 261.4L876.5 260.8L876.4 260.4L876.2 260.4L876.1 260.8L876.0 261.4L876.1 262.1L876.2 262.5L876.4 262.5L876.5 262.1ZM861.7 240.2L862.8 240.0L862.6 242.4L864.7 241.9L864.8 243.3L863.1 243.9L864.7 244.9L863.3 245.2L862.6 245.2L863.6 247.9L862.6 248.3L861.8 246.0L861.1 243.5L861.8 241.9ZM862.5 255.1L864.2 253.8L866.9 253.7L869.7 254.5L870.6 256.2L868.3 255.6L865.5 255.3L863.3 255.6ZM860.7 255.3L860.4 254.7L859.6 254.3L858.5 254.3L857.7 254.7L857.4 255.3L857.7 256.0L858.5 256.4L859.6 256.4L860.4 256.0ZM863.1 250.3L862.8 250.0L862.3 249.9L861.6 249.9L861.1 250.0L860.8 250.3L861.1 250.5L861.6 250.7L862.3 250.7L862.8 250.5ZM857.8 251.1L857.3 250.9L856.1 250.8L854.6 250.8L853.3 250.9L852.8 251.1L853.3 251.3L854.6 251.4L856.1 251.4L857.3 251.3ZM850.6 249.8L850.4 249.5L849.9 249.3L849.2 249.3L848.6 249.5L848.4 249.8L848.6 250.2L849.2 250.4L849.9 250.4L850.4 250.2ZM849.3 260.0L849.2 259.1L848.9 258.5L848.5 258.5L848.3 259.1L848.2 260.0L848.3 261.0L848.5 261.6L848.9 261.6L849.2 261.0ZM848.2 259.6L848.1 259.1L847.9 258.7L847.6 258.7L847.4 259.1L847.3 259.6L847.4 260.2L847.6 260.5L847.9 260.5L848.1 260.2ZM842.2 262.8L842.2 262.2L842.1 261.9L842.0 261.9L842.0 262.2L841.9 262.8L842.0 263.4L842.0 263.7L842.1 263.7L842.2 263.4ZM859.8 234.4L859.7 234.0L859.6 233.7L859.4 233.7L859.2 234.0L859.1 234.4L859.2 234.9L859.4 235.2L859.6 235.2L859.7 234.9ZM856.2 236.2L856.1 235.9L856.0 235.7L855.8 235.7L855.7 235.9L855.6 236.2L855.7 236.6L855.8 236.8L856.0 236.8L856.1 236.6ZM864.6 239.5L864.4 239.1L864.1 238.8L863.7 238.8L863.3 239.1L863.2 239.5L863.3 240.0L863.7 240.3L864.1 240.3L864.4 240.0ZM886.1 248.7L885.9 248.4L885.2 248.2L884.5 248.2L883.9 248.4L883.6 248.7L883.9 249.1L884.5 249.3L885.2 249.3L885.9 249.1ZM887.3 250.8L887.0 250.6L886.0 250.5L884.8 250.5L883.8 250.6L883.5 250.8L883.8 251.0L884.8 251.1L886.0 251.1L887.0 251.0ZM872.0 246.5L871.7 246.3L871.0 246.1L870.0 246.1L869.3 246.3L869.0 246.5L869.3 246.8L870.0 247.0L871.0 247.0L871.7 246.8ZM869.7 251.2L869.5 251.0L868.9 250.9L868.2 250.9L867.7 251.0L867.5 251.2L867.7 251.4L868.2 251.5L868.9 251.5L869.5 251.4ZM871.3 249.0L871.2 248.7L871.0 248.5L870.6 248.5L870.3 248.7L870.2 249.0L870.3 249.3L870.6 249.5L871.0 249.5L871.2 249.3ZM892.9 267.8L892.5 266.9L891.7 266.4L890.7 266.4L889.9 266.9L889.6 267.8L889.9 268.6L890.7 269.1L891.7 269.1L892.5 268.6ZM801.3 275.0L801.3 274.9L801.2 274.8L801.0 274.8L800.9 274.9L800.9 275.0L800.9 275.1L801.0 275.1L801.2 275.1L801.3 275.1ZM852.6 211.5L855.3 211.3L855.9 213.4L856.6 215.5L854.5 214.9L854.1 213.4ZM852.8 214.3L854.5 215.1L855.2 218.1L853.8 218.0L853.4 215.9ZM848.6 215.9L850.5 216.2L849.9 218.4L849.5 221.1L847.7 219.9L847.3 218.6ZM845.9 213.1L849.3 214.1L847.9 216.5L846.1 217.2L846.1 214.5ZM851.9 214.9L851.6 216.8L850.2 219.9L849.8 219.5L850.9 216.8ZM853.4 218.8L853.2 218.3L852.6 218.0L852.0 218.0L851.4 218.3L851.2 218.8L851.4 219.3L852.0 219.6L852.6 219.6L853.2 219.3ZM841.5 208.7L844.0 208.8L845.0 211.2L844.0 212.3L842.6 210.6ZM833.0 223.0L833.8 222.0L836.6 219.0L839.0 215.6L839.3 214.5L838.5 216.8L836.8 220.4L834.1 222.9ZM851.6 212.9L851.6 212.5L851.2 212.0L850.6 211.7L850.0 211.6L849.7 211.7L849.7 212.1L850.1 212.6L850.7 212.9L851.2 213.0ZM847.0 228.0L846.9 227.7L846.6 227.6L846.1 227.6L845.8 227.7L845.7 228.0L845.8 228.2L846.1 228.4L846.6 228.4L846.9 228.2ZM844.4 229.5L844.3 229.3L843.9 229.2L843.5 229.2L843.2 229.3L843.0 229.5L843.2 229.6L843.5 229.7L843.9 229.7L844.3 229.6ZM852.8 207.8L852.8 207.3L852.6 207.0L852.3 207.0L852.1 207.3L852.0 207.8L852.1 208.3L852.3 208.6L852.6 208.6L852.8 208.3ZM846.5 208.9L846.4 208.7L846.2 208.5L846.0 208.5L845.7 208.7L845.7 208.9L845.7 209.2L846.0 209.3L846.2 209.3L846.4 209.2ZM841.5 212.6L841.4 212.4L841.0 212.3L840.4 212.3L840.0 212.4L839.9 212.6L840.0 212.8L840.4 212.9L841.0 212.9L841.4 212.8ZM859.9 150.7L859.7 150.5L859.1 150.3L858.4 150.3L857.9 150.5L857.7 150.7L857.9 151.0L858.4 151.2L859.1 151.2L859.7 151.0ZM866.8 147.7L866.9 147.1L866.9 146.6L866.7 146.6L866.5 146.9L866.2 147.5L866.1 148.1L866.1 148.5L866.3 148.6L866.5 148.3ZM891.8 136.3L892.0 135.8L892.0 135.4L891.8 135.2L891.4 135.4L891.1 135.9L891.0 136.4L891.0 136.8L891.2 137.0L891.5 136.8ZM881.9 147.9L882.0 147.4L882.1 147.1L882.0 147.1L881.7 147.2L881.5 147.6L881.3 148.0L881.3 148.3L881.4 148.4L881.6 148.2ZM863.0 171.5L863.5 170.9L863.6 170.4L863.5 170.2L863.0 170.5L862.5 171.1L862.1 171.7L861.9 172.2L862.1 172.3L862.5 172.1ZM867.3 165.6L867.1 165.5L866.7 165.7L866.3 166.0L866.0 166.4L866.0 166.6L866.2 166.7L866.6 166.5L867.0 166.2L867.3 165.8ZM870.0 160.0L870.0 159.7L869.8 159.6L869.6 159.6L869.4 159.7L869.3 160.0L869.4 160.2L869.6 160.3L869.8 160.3L870.0 160.2ZM871.2 159.2L871.2 158.7L871.1 158.4L871.0 158.4L870.9 158.7L870.9 159.2L870.9 159.7L871.0 160.0L871.1 160.0L871.2 159.7ZM852.6 177.6L852.4 177.4L852.0 177.3L851.5 177.3L851.1 177.4L850.9 177.6L851.1 177.8L851.5 177.9L852.0 177.9L852.4 177.8ZM855.7 176.4L855.6 176.3L855.4 176.2L855.2 176.2L855.1 176.3L855.0 176.4L855.1 176.6L855.2 176.6L855.4 176.6L855.6 176.6ZM865.4 152.7L865.6 152.2L865.6 151.8L865.4 151.7L865.2 151.9L864.9 152.4L864.7 152.9L864.7 153.2L864.8 153.3L865.1 153.1ZM846.2 156.2L846.0 156.0L845.5 155.9L844.8 155.9L844.2 156.0L844.0 156.2L844.2 156.3L844.8 156.4L845.5 156.4L846.0 156.3ZM847.3 160.9L847.2 160.7L846.9 160.6L846.6 160.6L846.3 160.7L846.2 160.9L846.3 161.0L846.6 161.1L846.9 161.1L847.2 161.0ZM912.5 116.5L913.1 115.7L913.4 115.1L913.2 114.9L912.7 115.1L911.9 115.7L911.3 116.5L911.0 117.1L911.2 117.4L911.7 117.1ZM917.9 113.5L919.1 112.4L919.7 111.5L919.6 111.3L918.7 111.7L917.5 112.7L916.3 113.8L915.7 114.6L915.8 114.9L916.7 114.4ZM923.7 110.1L924.3 109.3L924.7 108.8L924.6 108.6L924.0 108.9L923.3 109.6L922.7 110.3L922.3 110.9L922.4 111.1L923.0 110.8ZM929.1 106.7L929.5 106.3L929.7 106.0L929.6 105.9L929.3 106.0L928.9 106.4L928.5 106.8L928.4 107.1L928.5 107.3L928.7 107.1ZM936.9 97.8L936.9 97.2L936.7 96.9L936.5 96.9L936.3 97.2L936.3 97.8L936.3 98.3L936.5 98.6L936.7 98.6L936.9 98.3ZM940.0 94.9L940.3 93.8L940.4 93.0L940.1 92.8L939.6 93.2L939.0 94.2L938.7 95.3L938.6 96.1L938.9 96.3L939.4 95.8ZM941.4 93.1L941.4 92.8L941.2 92.7L940.9 92.7L940.7 92.8L940.6 93.1L940.7 93.4L940.9 93.5L941.2 93.5L941.4 93.4ZM962.6 62.4L962.8 61.0L962.6 59.9L962.2 59.7L961.6 60.3L961.1 61.6L960.9 63.0L961.1 64.0L961.6 64.3L962.2 63.6ZM968.5 76.9L968.0 76.2L967.6 75.9L967.4 76.2L967.5 76.8L967.9 77.7L968.4 78.4L968.9 78.7L969.1 78.4L968.9 77.8ZM987.7 85.2L987.5 84.9L987.0 84.8L986.4 84.8L985.9 84.9L985.7 85.2L985.9 85.5L986.4 85.6L987.0 85.6L987.5 85.5ZM890.9 77.3L890.7 76.6L890.0 76.2L889.1 76.2L888.4 76.6L888.2 77.3L888.4 78.0L889.1 78.4L890.0 78.4L890.7 78.0ZM1013.2 6.7L1012.1 5.8L1009.4 5.3L1006.0 5.3L1003.2 5.8L1002.2 6.7L1003.2 7.6L1006.0 8.2L1009.4 8.2L1012.1 7.6ZM19.6 6.7L18.5 5.8L15.8 5.3L12.4 5.3L9.6 5.8L8.6 6.7L9.6 7.6L12.4 8.2L15.8 8.2L18.5 7.6ZM918.8 261.1L919.4 262.1L922.1 263.2L924.9 263.2L927.1 262.2L929.3 259.8L930.0 258.0L928.5 257.6L927.6 259.5L925.7 261.1L923.8 259.8L923.2 261.1L920.7 261.3ZM925.4 253.1L927.1 253.6L930.4 256.2L932.1 258.1L931.8 259.2L930.7 257.8L928.5 255.3L925.8 253.8ZM916.6 251.8L916.3 251.5L915.6 251.4L914.8 251.4L914.1 251.5L913.8 251.8L914.1 252.0L914.8 252.2L915.6 252.2L916.3 252.0ZM936.2 260.6L937.9 262.0L939.9 264.3L939.0 265.0L937.3 263.3L936.3 261.4ZM944.2 266.4L944.1 266.0L943.5 265.4L942.6 264.8L941.9 264.4L941.5 264.5L941.6 264.8L942.2 265.4L943.0 266.0L943.8 266.4ZM945.1 269.4L945.1 269.0L944.6 268.5L943.8 268.1L943.1 267.9L942.7 268.0L942.8 268.5L943.3 269.0L944.0 269.4L944.7 269.6ZM950.5 269.1L950.3 268.7L949.4 268.0L948.2 267.4L947.2 266.9L946.7 266.9L946.9 267.4L947.8 268.0L949.0 268.7L950.0 269.1ZM954.3 270.5L953.5 269.5L952.8 269.0L952.5 269.2L952.7 270.0L953.4 271.1L954.2 272.1L954.9 272.6L955.2 272.4L955.0 271.6ZM953.4 272.8L953.1 272.4L952.1 272.0L950.8 271.8L949.8 271.8L949.3 272.1L949.7 272.5L950.6 272.9L951.9 273.2L953.0 273.1ZM957.9 275.7L957.7 275.3L957.0 274.9L956.0 274.6L955.2 274.4L954.8 274.5L955.0 274.9L955.7 275.3L956.7 275.7L957.5 275.8ZM971.0 288.4L970.8 287.6L970.4 287.2L969.9 287.2L969.5 287.6L969.3 288.4L969.5 289.1L969.9 289.6L970.4 289.6L970.8 289.1ZM972.0 291.1L971.9 290.5L971.7 290.1L971.4 290.1L971.1 290.5L971.0 291.1L971.1 291.6L971.4 292.0L971.7 292.0L971.9 291.6ZM974.8 295.2L974.7 294.9L974.5 294.8L974.1 294.8L973.8 294.9L973.7 295.2L973.8 295.4L974.1 295.6L974.5 295.6L974.7 295.4ZM977.3 300.3L977.3 299.9L977.1 299.7L977.0 299.7L976.8 299.9L976.8 300.3L976.8 300.6L977.0 300.8L977.1 300.8L977.3 300.6ZM976.6 298.3L976.6 297.9L976.3 297.7L976.1 297.7L975.9 297.9L975.8 298.3L975.9 298.6L976.1 298.8L976.3 298.8L976.6 298.6ZM961.9 301.8L963.2 302.3L967.7 305.4L970.4 308.0L970.1 308.7L967.7 307.4L964.6 304.9L962.1 302.9ZM971.5 304.4L971.4 304.1L971.1 303.9L970.8 303.9L970.5 304.1L970.4 304.4L970.5 304.8L970.8 305.0L971.1 305.0L971.4 304.8ZM973.5 306.0L973.4 305.8L973.2 305.6L972.9 305.6L972.7 305.8L972.6 306.0L972.7 306.3L972.9 306.4L973.2 306.4L973.4 306.3ZM1002.6 295.4L1002.2 294.7L1001.3 294.2L1000.2 294.2L999.3 294.7L999.0 295.4L999.3 296.2L1000.2 296.7L1001.3 296.7L1002.2 296.2ZM9.0 295.4L8.6 294.7L7.7 294.2L6.6 294.2L5.7 294.7L5.4 295.4L5.7 296.2L6.6 296.7L7.7 296.7L8.6 296.2ZM1006.2 291.3L1005.7 291.1L1004.6 291.3L1003.3 291.8L1002.3 292.4L1002.0 292.8L1002.5 293.0L1003.6 292.8L1004.9 292.3L1005.9 291.7ZM12.6 291.3L12.1 291.1L11.0 291.3L9.7 291.8L8.7 292.4L8.4 292.8L8.9 293.0L10.0 292.8L11.3 292.3L12.3 291.7ZM1006.6 292.8L1006.5 292.4L1006.4 292.2L1006.2 292.2L1006.1 292.4L1006.0 292.8L1006.1 293.1L1006.2 293.3L1006.4 293.3L1006.5 293.1ZM13.0 292.8L12.9 292.4L12.8 292.2L12.6 292.2L12.5 292.4L12.4 292.8L12.5 293.1L12.6 293.3L12.8 293.3L12.9 293.1ZM34.5 283.6L34.3 283.3L33.8 283.1L33.2 283.1L32.8 283.3L32.6 283.6L32.8 283.9L33.2 284.1L33.8 284.1L34.3 283.9ZM36.3 284.5L36.1 284.3L35.7 284.2L35.2 284.2L34.8 284.3L34.6 284.5L34.8 284.6L35.2 284.7L35.7 284.7L36.1 284.6ZM97.7 295.0L97.6 294.7L97.2 294.5L96.8 294.5L96.5 294.7L96.3 295.0L96.5 295.3L96.8 295.5L97.2 295.5L97.6 295.3ZM123.2 270.5L123.1 270.4L122.9 270.3L122.7 270.3L122.6 270.4L122.5 270.5L122.6 270.7L122.7 270.8L122.9 270.8L123.1 270.7ZM126.3 272.9L126.2 272.8L126.0 272.7L125.7 272.7L125.5 272.8L125.4 272.9L125.5 273.0L125.7 273.1L126.0 273.1L126.2 273.0ZM26.4 305.0L26.3 304.9L26.1 304.8L25.8 304.8L25.6 304.9L25.5 305.0L25.6 305.1L25.8 305.2L26.1 305.2L26.3 305.1ZM1020.0 305.0L1019.9 304.9L1019.7 304.8L1019.4 304.8L1019.2 304.9L1019.1 305.0L1019.2 305.1L1019.4 305.2L1019.7 305.2L1019.9 305.1ZM973.9 385.6L973.7 385.1L973.2 384.8L972.6 384.8L972.1 385.1L971.9 385.6L972.1 386.1L972.6 386.4L973.2 386.4L973.7 386.1ZM23.2 375.0L23.0 374.6L22.6 374.4L22.1 374.4L21.7 374.6L21.5 375.0L21.7 375.4L22.1 375.7L22.6 375.7L23.0 375.4ZM1016.8 375.0L1016.6 374.6L1016.2 374.4L1015.7 374.4L1015.3 374.6L1015.1 375.0L1015.3 375.4L1015.7 375.7L1016.2 375.7L1016.6 375.4ZM890.1 348.8L889.7 348.5L888.8 348.3L887.6 348.3L886.6 348.5L886.2 348.8L886.6 349.1L887.6 349.2L888.8 349.2L889.7 349.1ZM887.3 284.7L887.2 284.2L886.8 283.9L886.3 283.9L885.8 284.2L885.7 284.7L885.8 285.2L886.3 285.5L886.8 285.5L887.2 285.2ZM872.4 277.9L872.1 277.5L871.3 277.3L870.3 277.3L869.4 277.5L869.1 277.9L869.4 278.2L870.3 278.5L871.3 278.5L872.1 278.2ZM869.5 278.0L869.4 277.7L869.1 277.4L868.6 277.4L868.3 277.7L868.2 278.0L868.3 278.4L868.6 278.6L869.1 278.6L869.4 278.4ZM895.1 291.9L894.9 291.7L894.5 291.5L894.0 291.5L893.6 291.7L893.4 291.9L893.6 292.2L894.0 292.3L894.5 292.3L894.9 292.2ZM932.6 316.9L932.6 316.0L932.4 315.5L932.2 315.5L932.1 316.0L932.1 316.9L932.1 317.8L932.2 318.3L932.4 318.3L932.6 317.8ZM907.4 361.7L907.3 361.1L907.1 360.8L906.8 360.8L906.6 361.1L906.5 361.7L906.6 362.2L906.8 362.6L907.1 362.6L907.3 362.2ZM918.5 362.2L918.4 361.5L918.2 361.1L917.8 361.1L917.5 361.5L917.4 362.2L917.5 362.8L917.8 363.2L918.2 363.2L918.4 362.8ZM909.4 208.8L909.4 208.6L909.2 208.4L909.1 208.4L908.9 208.6L908.9 208.8L908.9 209.1L909.1 209.2L909.2 209.2L909.4 209.1Z"/>
<filter id="soft" x="-1%" y="-1%" width="102%" height="102%"><feGaussianBlur stdDeviation="0.7"/></filter>
</defs>
<rect width="1024" height="484" fill="#fff"/>
<g filter="url(#soft)">
<rect x="14.0" y="15.3" width="991.5" height="415.1" fill="#f7f7f7"/>
<g clip-path="url(#frame)">
<path d="M67.9 15.3V430.4M123.1 15.3V430.4M178.3 15.3V430.4M233.5 15.3V430.4M288.7 15.3V430.4M343.9 15.3V430.4M399.1 15.3V430.4M454.3 15.3V430.4M509.5 15.3V430.4M564.7 15.3V430.4M619.9 15.3V430.4M675.1 15.3V430.4M730.3 15.3V430.4M785.5 15.3V430.4M840.7 15.3V430.4M895.9 15.3V430.4M951.1 15.3V430.4M14.0 57.5H1005.5M14.0 129.8H1005.5M14.0 190.3H1005.5M14.0 246.0H1005.5M14.0 301.7H1005.5M14.0 362.2H1005.5" fill="none" stroke="#000" stroke-opacity=".021" stroke-width="1.6"/>
<use href="#land" fill="#cfcfcf"/>
<g clip-path="url(#c_e2007)"><use href="#land" fill="#fbc205"/></g>
<g clip-path="url(#c_a1999)"><use href="#land" fill="#ec6b14"/></g>
<g clip-path="url(#c_e1994)"><use href="#land" fill="#da3b13"/></g>
<g clip-path="url(#c_am1999)"><use href="#land" fill="#ec6b14"/></g>
<g clip-path="url(#c_s2018)"><use href="#land" fill="#f5dc24"/></g>
<g clip-path="url(#c_n2019)"><use href="#land" fill="#fbec32"/></g>
<g clip-path="url(#c_n2018)"><use href="#land" fill="#f5dc24"/></g>
<g clip-path="url(#c_n2005)"><use href="#land" fill="#f6a50f"/></g>
<path d="M255.3 107.3L258.9 107.6L263.0 106.7L267.2 104.8L265.5 106.9L268.3 107.9L270.5 108.3L272.4 107.4L275.0 107.2L276.3 108.1L276.0 106.4L275.7 105.0L275.2 103.1L272.7 102.9L271.0 100.3L268.0 99.9L265.8 99.5L263.3 101.5L262.2 102.9L259.7 104.1L257.5 105.7L256.5 106.3ZM267.7 123.8L268.6 124.5L269.7 124.2L270.8 123.0L271.3 119.1L270.8 116.6L271.5 114.5L273.2 112.6L274.2 112.2L275.6 110.5L273.5 109.5L271.5 110.0L269.2 110.7L266.6 114.8L269.4 112.2L268.0 114.9L267.6 116.3L266.9 119.8ZM275.7 110.4L278.2 111.8L279.2 113.0L279.6 115.6L277.9 117.8L280.6 116.4L281.9 120.0L284.0 117.5L284.1 116.0L285.1 114.3L284.1 112.4L286.1 114.6L288.1 114.9L289.0 114.1L288.6 112.1L286.2 110.0L284.6 109.9L282.6 110.7L280.6 109.2L277.7 109.3L277.9 109.9ZM279.2 124.3L281.2 125.1L284.0 124.9L288.4 122.8L291.7 120.5L290.8 120.4L288.4 121.5L285.4 121.1L281.8 123.3L280.1 123.1ZM289.3 119.1L290.4 117.9L291.9 117.1L293.8 116.8L296.7 117.0L298.4 116.0L299.2 117.0L298.4 118.4L295.3 119.1L291.3 119.1ZM242.3 94.4L243.7 93.6L244.0 90.4L242.3 87.8L241.0 84.8L239.6 81.8L236.8 81.7L235.6 84.3L237.6 86.3L239.3 88.5L241.2 90.7L241.8 92.6ZM238.2 95.1L239.0 93.6L237.1 91.5L235.4 88.9L234.6 86.3L233.5 84.8L231.8 84.8L232.7 88.2L234.6 90.0L236.3 92.9ZM186.6 53.4L191.3 49.6L193.5 47.9L201.8 46.0L208.1 45.3L205.9 47.0L200.4 50.0L195.7 52.9L190.7 54.2ZM164.5 35.7L172.8 34.8L176.9 36.1L179.7 33.9L184.9 32.0L184.4 29.3L179.7 27.0L174.2 28.9L165.3 28.4L168.6 31.6L171.4 32.0ZM202.3 63.2L208.7 60.0L215.6 58.9L217.2 60.4L210.0 61.4L204.5 63.4ZM226.0 71.9L228.0 71.9L229.9 66.0L228.0 65.2ZM266.5 96.5L266.2 95.7L265.6 95.2L264.9 95.2L264.2 95.7L264.0 96.5L264.2 97.4L264.9 97.9L265.6 97.9L266.2 97.4ZM200.2 126.1L200.0 125.1L199.4 124.5L198.6 124.5L198.0 125.1L197.8 126.1L198.0 127.1L198.6 127.6L199.4 127.6L200.0 127.1ZM311.9 215.8L313.0 216.8L313.5 218.7L312.4 220.9L310.8 220.1L310.5 217.6L311.5 216.5ZM319.4 291.3L319.5 290.7L319.1 289.9L318.4 289.2L317.6 288.8L317.1 288.9L317.0 289.4L317.4 290.2L318.1 291.0L318.9 291.4ZM589.8 125.9L586.8 123.8L585.4 121.6L586.6 119.3L588.0 118.8L588.6 116.1L591.5 113.3L592.9 110.5L594.4 108.1L597.5 107.6L599.8 109.5L602.2 109.7L599.2 112.1L601.5 112.7L601.8 114.6L602.6 115.4L603.8 115.0L604.4 114.4L606.0 113.8L607.2 113.3L610.0 113.1L610.8 112.9L612.4 113.6L613.8 114.3L614.5 114.8L617.3 116.3L619.1 118.0L622.7 120.0L624.5 122.8L624.4 124.4L623.8 125.3L621.3 126.5L619.1 126.6L615.5 126.8L614.1 126.6L609.8 125.6L608.7 124.1L606.5 123.2L602.6 123.4L600.6 123.6L598.9 124.1L597.3 125.1L596.2 125.6L595.5 126.3L592.9 125.9L591.2 126.0ZM610.2 111.9L607.2 112.2L605.5 109.3L606.9 108.5L611.1 107.3L613.1 106.1L616.9 105.7L618.0 106.0L615.1 107.4L614.1 108.5L614.8 109.7L612.7 112.2L611.2 111.9ZM583.3 128.4L585.4 126.7L589.5 126.6L592.0 127.4L589.5 128.5L586.2 128.5L584.0 128.7ZM640.9 111.2L643.4 109.8L645.6 108.5L648.9 107.1L652.5 106.4L655.8 107.4L656.3 109.1L655.8 112.2L651.6 112.2L648.3 114.6L650.7 117.8L651.1 119.5L654.7 120.8L655.4 124.1L658.5 123.3L660.2 125.6L658.0 127.6L655.6 126.7L655.8 129.8L655.5 131.8L657.2 132.1L658.3 133.4L658.0 138.0L658.5 139.8L655.8 139.9L654.8 140.4L651.6 140.5L649.3 139.7L646.0 138.0L644.4 134.9L644.3 133.9L645.8 131.9L648.5 128.9L646.5 127.9L645.0 125.6L642.8 123.1L640.6 120.0L640.6 117.3L638.9 114.6L639.2 113.3ZM670.4 112.2L672.1 108.8L675.1 108.1L676.2 110.2L675.7 113.3L674.0 115.3L671.2 114.9L669.9 113.6ZM712.1 111.5L712.9 109.1L715.9 107.1L718.7 107.6L722.0 107.4L726.2 107.4L728.1 107.8L727.5 108.8L723.4 108.6L719.3 108.8L716.5 109.5L715.1 112.2L713.7 113.4ZM719.8 122.0L722.8 120.8L725.6 121.0L725.6 122.1L720.6 122.6ZM795.7 89.8L798.9 89.1L801.8 86.7L806.2 83.3L809.5 78.8L812.3 74.6L812.8 76.5L812.0 79.2L810.3 82.6L808.1 85.6L803.2 87.4L800.1 89.6L797.4 90.6ZM595.1 57.7L599.2 57.1L600.6 54.6L600.0 52.5L596.4 51.1L594.2 50.4L592.6 53.4L593.4 55.4ZM607.5 53.6L609.7 52.5L608.9 50.0L606.1 47.9L605.0 49.2L605.3 51.3L606.1 52.5ZM543.4 61.6L545.4 60.2L546.8 60.2L548.4 60.4L547.6 62.8L545.8 63.6L543.6 64.0L544.0 62.6ZM548.4 66.4L549.2 66.6L550.6 63.6L550.9 62.2L549.8 62.8L549.0 64.8ZM605.4 246.3L603.6 245.2L601.1 244.9L599.1 245.9L597.3 247.1L597.3 249.7L597.3 252.6L600.3 252.9L601.7 252.0L603.1 252.2L602.8 250.1L603.6 248.7L604.7 247.0ZM590.5 255.2L591.2 259.5L592.0 262.5L594.0 265.3L595.6 269.7L595.3 270.3L593.7 268.6L591.6 265.4L590.1 262.4L589.8 258.4L590.0 255.3ZM603.1 272.2L605.0 273.6L605.0 276.4L606.0 278.9L605.8 281.9L606.9 284.5L606.8 285.9L605.5 285.0L604.4 282.8L603.6 279.1L604.2 278.0L603.9 275.0ZM608.6 233.3L609.4 233.8L611.1 238.0L610.5 239.4L609.1 236.7ZM549.9 209.8L549.7 209.2L549.1 208.9L548.3 208.9L547.7 209.2L547.5 209.8L547.7 210.4L548.3 210.7L549.1 210.7L549.7 210.4ZM613.3 212.9L613.1 212.3L612.7 211.9L612.2 211.9L611.8 212.3L611.6 212.9L611.8 213.4L612.2 213.8L612.7 213.8L613.1 213.4ZM595.5 241.6L596.1 240.7L596.3 239.9L596.0 239.7L595.3 240.1L594.6 241.0L594.0 242.0L593.9 242.7L594.1 242.9L594.8 242.5ZM636.2 137.2L636.0 136.0L635.4 135.2L634.7 135.2L634.2 136.0L634.0 137.2L634.2 138.4L634.7 139.2L635.4 139.2L636.0 138.4ZM138.0 63.5L139.6 64.0L142.5 71.0L145.5 79.5L148.0 84.5L150.0 87.5L148.8 88.0L146.3 84.6L143.8 79.0L141.0 71.5L138.4 65.5ZM366.0 251.3L369.8 246.2L371.0 245.6L371.3 246.6L367.2 251.8ZM373.3 250.3L375.8 247.5L376.8 247.6L374.3 250.8ZM791.2 80.6L794.5 81.0L798.5 83.8L801.2 86.6L800.0 88.0L796.5 85.8L792.5 83.2L791.0 82.0ZM819.2 93.2L822.0 91.2L826.0 90.0L828.8 90.2L828.6 92.6L825.0 94.2L821.0 94.8Z" fill="#f7f7f7"/>
<path d="M67.9 15.3V430.4M123.1 15.3V430.4M178.3 15.3V430.4M233.5 15.3V430.4M288.7 15.3V430.4M343.9 15.3V430.4M399.1 15.3V430.4M454.3 15.3V430.4M509.5 15.3V430.4M564.7 15.3V430.4M619.9 15.3V430.4M675.1 15.3V430.4M730.3 15.3V430.4M785.5 15.3V430.4M840.7 15.3V430.4M895.9 15.3V430.4M951.1 15.3V430.4M14.0 57.5H1005.5M14.0 129.8H1005.5M14.0 190.3H1005.5M14.0 246.0H1005.5M14.0 301.7H1005.5M14.0 362.2H1005.5" fill="none" stroke="#000" stroke-opacity=".012" stroke-width="1.4"/>
</g>
<rect x="14.0" y="15.3" width="991.5" height="415.1" fill="none" stroke="#cdcdcd" stroke-width="1.2"/>
<text class="ax" x="62.6" y="26.3" text-anchor="middle">160°W</text>
<text class="ax" x="118.2" y="26.3" text-anchor="middle">140°W</text>
<text class="ax" x="173.7" y="26.3" text-anchor="middle">120°W</text>
<text class="ax" x="229.3" y="26.3" text-anchor="middle">100°W</text>
<text class="ax" x="284.9" y="26.3" text-anchor="middle">80°W</text>
<text class="ax" x="340.4" y="26.3" text-anchor="middle">60°W</text>
<text class="ax" x="396.0" y="26.3" text-anchor="middle">40°W</text>
<text class="ax" x="451.5" y="26.3" text-anchor="middle">20°W</text>
<text class="ax" x="507.9" y="26.3" text-anchor="middle">0°</text>
<text class="ax" x="562.7" y="26.3" text-anchor="middle">20°E</text>
<text class="ax" x="618.2" y="26.3" text-anchor="middle">40°E</text>
<text class="ax" x="673.8" y="26.3" text-anchor="middle">60°E</text>
<text class="ax" x="729.3" y="26.3" text-anchor="middle">80°E</text>
<text class="ax" x="784.9" y="26.3" text-anchor="middle">100°E</text>
<text class="ax" x="840.5" y="26.3" text-anchor="middle">120°E</text>
<text class="ax" x="896.0" y="26.3" text-anchor="middle">140°E</text>
<text class="ax" x="951.6" y="26.3" text-anchor="middle">160°E</text>
<text class="ax" x="17" y="66.2">60°N</text>
<text class="ax" x="1002.3" y="66.2" text-anchor="end">60°N</text>
<text class="ax" x="17" y="138.5">40°N</text>
<text class="ax" x="1002.3" y="138.5" text-anchor="end">40°N</text>
<text class="ax" x="17" y="200.2">20°N</text>
<text class="ax" x="1002.3" y="200.2" text-anchor="end">20°N</text>
<text class="ax" x="17" y="255.7">0°</text>
<text class="ax" x="1002.3" y="255.7" text-anchor="end">0°</text>
<text class="ax" x="17" y="311.6">20°S</text>
<text class="ax" x="1002.3" y="311.6" text-anchor="end">20°S</text>
<text class="ax" x="17" y="371.4">40°S</text>
<text class="ax" x="1002.3" y="371.4" text-anchor="end">40°S</text>
<text class="lh" x="128.0" y="52.4" textLength="32.4" lengthAdjust="spacingAndGlyphs">2019</text><text class="lb" x="128.0" y="52.4" textLength="32.4" lengthAdjust="spacingAndGlyphs">2019</text>
<text class="lh" x="256.4" y="52.4" textLength="32.4" lengthAdjust="spacingAndGlyphs">2018</text><text class="lb" x="256.4" y="52.4" textLength="32.4" lengthAdjust="spacingAndGlyphs">2018</text>
<text class="lh" x="565.9" y="52.4" textLength="32.4" lengthAdjust="spacingAndGlyphs">2005</text><text class="lb" x="565.9" y="52.4" textLength="32.4" lengthAdjust="spacingAndGlyphs">2005</text>
<text class="lh" x="562.8" y="105.7" textLength="32.4" lengthAdjust="spacingAndGlyphs">1994</text><text class="lb" x="562.8" y="105.7" textLength="32.4" lengthAdjust="spacingAndGlyphs">1994</text>
<text class="lh" x="693.8" y="105.7" textLength="32.4" lengthAdjust="spacingAndGlyphs">1999</text><text class="lb" x="693.8" y="105.7" textLength="32.4" lengthAdjust="spacingAndGlyphs">1999</text>
<text class="lh" x="857.6" y="108.7" textLength="32.4" lengthAdjust="spacingAndGlyphs">2007</text><text class="lb" x="857.6" y="108.7" textLength="32.4" lengthAdjust="spacingAndGlyphs">2007</text>
<text class="lh" x="234.7" y="135.6" textLength="32.4" lengthAdjust="spacingAndGlyphs">1999</text><text class="lb" x="234.7" y="135.6" textLength="32.4" lengthAdjust="spacingAndGlyphs">1999</text>
<text class="lh" x="348.9" y="271.9" textLength="32.4" lengthAdjust="spacingAndGlyphs">1999</text><text class="lb" x="348.9" y="271.9" textLength="32.4" lengthAdjust="spacingAndGlyphs">1999</text>
<text class="lh" x="572.3" y="253.3" textLength="32.4" lengthAdjust="spacingAndGlyphs">1994</text><text class="lb" x="572.3" y="253.3" textLength="32.4" lengthAdjust="spacingAndGlyphs">1994</text>
<text class="lh" x="877.9" y="320.3" textLength="32.4" lengthAdjust="spacingAndGlyphs">2007</text><text class="lb" x="877.9" y="320.3" textLength="32.4" lengthAdjust="spacingAndGlyphs">2007</text>
<text class="lb" x="340.9" y="398.7" textLength="32.4" lengthAdjust="spacingAndGlyphs">2018</text>
<text class="lg" x="187" y="457.4" style="font-size:13.8px" textLength="116" lengthAdjust="spacingAndGlyphs">Data available from</text>
<rect x="352.5" y="447" width="26" height="13" fill="#da3b13"/><text class="lg" x="385.5" y="458.4" style="font-size:14.2px" textLength="27.6" lengthAdjust="spacingAndGlyphs">1994</text>
<rect x="448.5" y="447" width="26" height="13" fill="#ec6b14"/><text class="lg" x="481.5" y="458.4" style="font-size:14.2px" textLength="27.6" lengthAdjust="spacingAndGlyphs">1999</text>
<rect x="544.5" y="447" width="26" height="13" fill="#f6a50f"/><text class="lg" x="577.5" y="458.4" style="font-size:14.2px" textLength="27.6" lengthAdjust="spacingAndGlyphs">2005</text>
<rect x="640.5" y="447" width="26" height="13" fill="#fbc205"/><text class="lg" x="673.5" y="458.4" style="font-size:14.2px" textLength="27.6" lengthAdjust="spacingAndGlyphs">2007</text>
<rect x="736.5" y="447" width="26" height="13" fill="#f5dc24"/><text class="lg" x="769.5" y="458.4" style="font-size:14.2px" textLength="27.6" lengthAdjust="spacingAndGlyphs">2018</text>
<rect x="832.5" y="447" width="26" height="13" fill="#fbec32"/><text class="lg" x="865.5" y="458.4" style="font-size:14.2px" textLength="27.6" lengthAdjust="spacingAndGlyphs">2019</text>
<text x="1001.5" y="444" text-anchor="end" style="font-size:6.4px;fill:#7c7c7c">© 2025 Solargis</text>
</g>
</svg>
</body></html>
